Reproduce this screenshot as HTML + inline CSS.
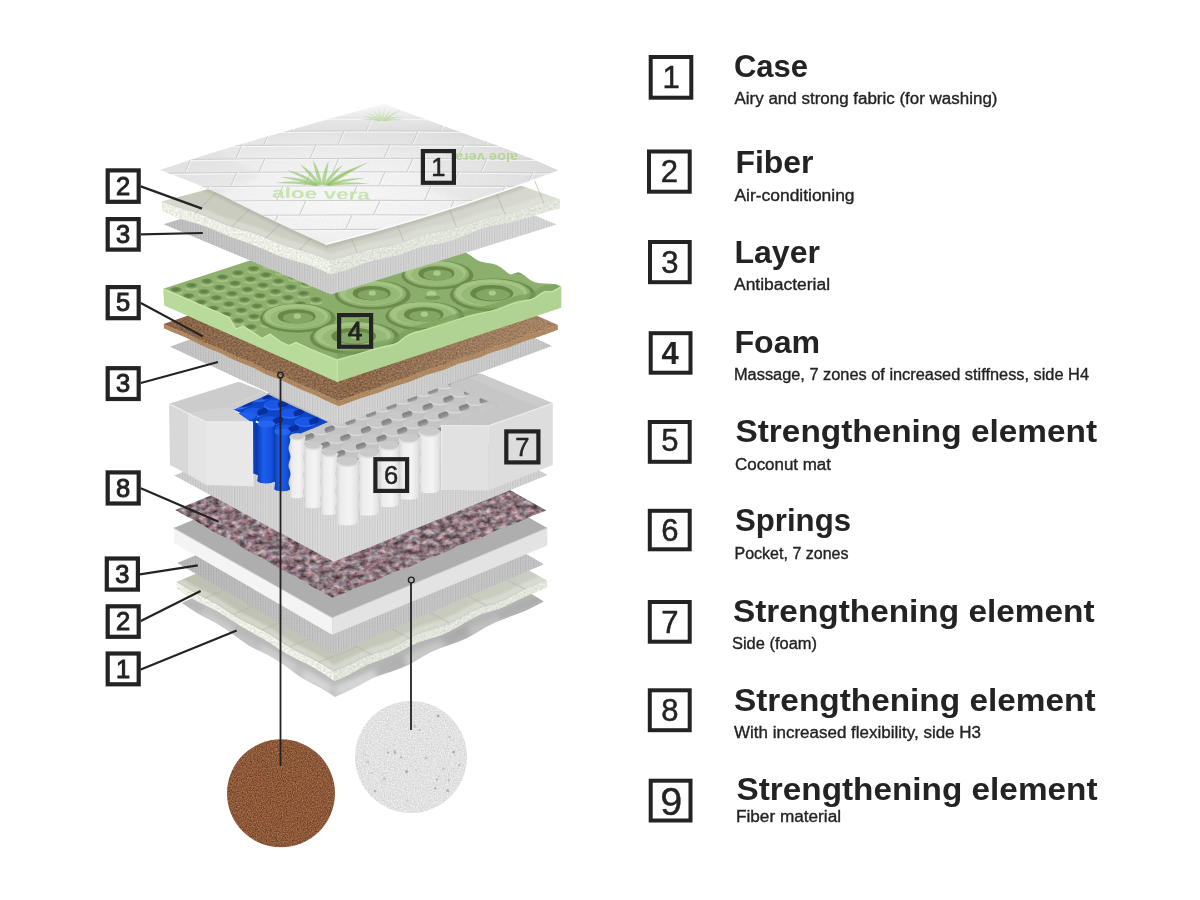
<!DOCTYPE html>
<html><head><meta charset="utf-8"><title>Mattress layers</title>
<style>html,body{margin:0;padding:0;background:#fff}svg{display:block;font-family:"Liberation Sans",sans-serif}</style>
</head><body>
<svg width="1200" height="900" viewBox="0 0 1200 900">
<defs>

<pattern id="mesh" width="2.6" height="2.6" patternUnits="userSpaceOnUse">
  <rect width="2.6" height="2.6" fill="#000" fill-opacity="0"/>
  <rect x="0" y="0" width="1.1" height="2.6" fill="#000" fill-opacity="0.075"/>
  <rect x="1.1" y="0" width="1.5" height="0.9" fill="#fff" fill-opacity="0.10"/>
</pattern>
<filter color-interpolation-filters="sRGB" id="nFelt" filterUnits="userSpaceOnUse" x="150" y="480" width="420" height="140">
  <feTurbulence type="fractalNoise" baseFrequency="0.15 0.2" numOctaves="3" seed="11" result="n"/>
  <feColorMatrix in="n" type="matrix" values="0.8 0.27 0 0 0.02  0.8 0 0 0 0.07  0.8 0 0.06 0 0.07  0 0 0 0 1"/>
  <feComposite operator="in" in2="SourceGraphic"/>
</filter>
<filter color-interpolation-filters="sRGB" id="nCoco" filterUnits="userSpaceOnUse" x="150" y="300" width="420" height="120">
  <feTurbulence type="fractalNoise" baseFrequency="0.55" numOctaves="2" seed="5" result="n"/>
  <feColorMatrix in="n" type="matrix" values="0.4 0 0 0 0.345  0.31 0 0 0 0.25  0.23 0 0 0 0.17  0 0 0 0 1"/>
  <feComposite operator="in" in2="SourceGraphic"/>
</filter>
<filter color-interpolation-filters="sRGB" id="nCocoC" filterUnits="userSpaceOnUse" x="220" y="730" width="125" height="125">
  <feTurbulence type="fractalNoise" baseFrequency="0.8" numOctaves="2" seed="9" result="n"/>
  <feColorMatrix in="n" type="matrix" values="0.5 0 0 0 0.30  0.38 0 0 0 0.155  0.28 0 0 0 0.085  0 0 0 0 1"/>
  <feComposite operator="in" in2="SourceGraphic"/>
</filter>
<filter color-interpolation-filters="sRGB" id="nFoamC" filterUnits="userSpaceOnUse" x="350" y="695" width="125" height="125">
  <feTurbulence type="fractalNoise" baseFrequency="0.7" numOctaves="2" seed="4" result="n"/>
  <feColorMatrix in="n" type="matrix" values="0.22 0 0 0 0.775  0.22 0 0 0 0.775  0.22 0 0 0 0.78  0 0 0 0 1"/>
  <feComposite operator="in" in2="SourceGraphic"/>
</filter>
<filter color-interpolation-filters="sRGB" id="nCream" filterUnits="userSpaceOnUse" x="150" y="180" width="430" height="520">
  <feTurbulence type="fractalNoise" baseFrequency="0.5" numOctaves="2" seed="2" result="n"/>
  <feColorMatrix in="n" type="matrix" values="0.22 0 0 0 0.815  0.22 0 0 0 0.825  0.22 0 0 0 0.785  0 0 0 0 1"/>
  <feComposite operator="in" in2="SourceGraphic"/>
</filter>
<filter id="soft" x="-5%" y="-5%" width="110%" height="110%"><feGaussianBlur stdDeviation="1.2"/></filter>
<filter id="soft2" x="-10%" y="-10%" width="120%" height="120%"><feGaussianBlur stdDeviation="2.5"/></filter>
<filter id="soft05" x="-5%" y="-5%" width="110%" height="110%"><feGaussianBlur stdDeviation="0.6"/></filter>
<linearGradient id="gMeshL" x1="0" y1="0" x2="1" y2="0"><stop offset="0" stop-color="#c3c3c3"/><stop offset="0.45" stop-color="#dadada"/><stop offset="1" stop-color="#d0d0d0"/></linearGradient>
<linearGradient id="gCyl" x1="0" y1="0" x2="1" y2="0"><stop offset="0" stop-color="#cfcfcf"/><stop offset="0.22" stop-color="#ececec"/><stop offset="0.6" stop-color="#f4f4f4"/><stop offset="0.88" stop-color="#e2e2e2"/><stop offset="1" stop-color="#c4c4c4"/></linearGradient>
<linearGradient id="gBlue" x1="0" y1="0" x2="1" y2="0"><stop offset="0" stop-color="#0b3cb4"/><stop offset="0.35" stop-color="#1d5ef0"/><stop offset="0.75" stop-color="#1450dc"/><stop offset="1" stop-color="#0a36a6"/></linearGradient>
<linearGradient id="gCoverLow" x1="0" y1="0" x2="1" y2="0"><stop offset="0" stop-color="#c0c0c0"/><stop offset="0.4" stop-color="#c6c6c6"/><stop offset="1" stop-color="#b4b4b4"/></linearGradient>
<linearGradient id="gTopFade" x1="0" y1="0" x2="0" y2="1"><stop offset="0" stop-color="#fff" stop-opacity="1"/><stop offset="1" stop-color="#fff" stop-opacity="0"/></linearGradient>

<clipPath id="cpCovLow"><path d="M181.7,603.0 Q198.7,614.6 207.2,618.6 Q215.8,622.6 224.3,628.2 Q232.8,633.9 241.3,640.4 Q249.8,646.9 258.4,650.4 Q266.9,654.0 275.4,659.3 Q283.9,664.6 292.4,671.3 Q300.9,678.1 309.5,682.2 Q318.0,686.3 326.5,691.6 L335.0,697.0 L335.0,697.0 Q354.0,688.7 363.5,683.0 Q373.0,677.3 382.5,674.5 Q391.9,671.7 401.4,668.0 Q410.9,664.2 420.4,657.9 Q429.9,651.5 439.4,648.4 Q448.9,645.3 458.4,641.8 Q467.9,638.3 477.4,632.3 Q486.9,626.2 496.3,622.1 Q505.8,618.0 515.3,614.8 Q524.8,611.6 534.3,606.5 L543.8,601.5 L390.5,507.5 Z"/></clipPath>
<linearGradient id="gFib21" gradientUnits="userSpaceOnUse" x1="176.4" y1="0" x2="546.9" y2="0"><stop offset="0" stop-color="#bcbfb1"/><stop offset="0.45" stop-color="#c3c6b9"/><stop offset="1" stop-color="#cbcec2"/></linearGradient>
<clipPath id="cpFib21"><path d="M176.4,582.0 Q192.1,591.8 200.0,595.4 Q207.9,599.0 215.8,603.7 Q223.6,608.4 231.5,613.8 Q239.4,619.1 247.2,622.8 Q255.1,626.4 263.0,630.6 Q270.8,634.8 278.7,640.3 Q286.6,645.9 294.5,649.9 Q302.3,653.9 310.2,657.7 Q318.1,661.5 325.9,666.5 L333.8,671.5 L333.8,671.5 Q350.2,664.6 358.4,660.2 Q366.6,655.7 374.8,653.6 Q383.0,651.5 391.2,648.0 Q399.4,644.6 407.6,639.5 Q415.8,634.5 424.0,631.8 Q432.2,629.2 440.4,626.7 Q448.5,624.3 456.7,619.8 Q464.9,615.2 473.1,611.0 Q481.3,606.8 489.5,605.1 Q497.7,603.4 505.9,599.0 Q514.1,594.6 522.3,590.6 Q530.5,586.6 538.7,583.5 L546.9,580.5 L389.5,491.0 Z"/></clipPath>
<linearGradient id="gcpMesh4" gradientUnits="userSpaceOnUse" x1="177.4" y1="0" x2="543.8" y2="0"><stop offset="0" stop-color="#b8b8b8"/><stop offset="0.45" stop-color="#c8c8c8"/><stop offset="1" stop-color="#c5c5c5"/></linearGradient>
<linearGradient id="gcpMesh3" gradientUnits="userSpaceOnUse" x1="174.3" y1="0" x2="547.5" y2="0"><stop offset="0" stop-color="#cfcfcf"/><stop offset="0.45" stop-color="#dcdcdc"/><stop offset="1" stop-color="#d3d3d3"/></linearGradient>
<clipPath id="cpTops"><polygon points="291.0,436.0 326.0,421.0 300.0,405.0 420.0,365.0 455.0,386.0 500.0,406.0 441.0,431.0 347.0,470.0"/></clipPath>
<linearGradient id="gGap" x1="0" y1="0" x2="0" y2="1"><stop offset="0" stop-color="#7f7f7f"/><stop offset="0.6" stop-color="#8e8e8e"/><stop offset="1" stop-color="#a8a8a8"/></linearGradient>
<clipPath id="cpBlue"><polygon points="229.5,407.5 268.0,394.5 328.0,422.0 291.0,437.5"/></clipPath>
<linearGradient id="gcpMesh2" gradientUnits="userSpaceOnUse" x1="170.0" y1="0" x2="552.0" y2="0"><stop offset="0" stop-color="#c4c4c4"/><stop offset="0.45" stop-color="#d6d6d6"/><stop offset="1" stop-color="#c9c9c9"/></linearGradient>
<linearGradient id="gCocoLt" gradientUnits="userSpaceOnUse" x1="160" y1="0" x2="560" y2="0"><stop offset="0" stop-color="#5a3a22" stop-opacity="0.12"/><stop offset="0.5" stop-color="#fff" stop-opacity="0"/><stop offset="1" stop-color="#e8c9a0" stop-opacity="0.28"/></linearGradient>

<radialGradient id="gRing">
  <stop offset="0" stop-color="#b2d590"/><stop offset="0.08" stop-color="#9cc27a"/>
  <stop offset="0.20" stop-color="#6b9250"/><stop offset="0.34" stop-color="#759c58"/>
  <stop offset="0.50" stop-color="#94bb72"/><stop offset="0.72" stop-color="#a0c67e"/>
  <stop offset="0.86" stop-color="#7ea562"/><stop offset="0.94" stop-color="#6f9654"/><stop offset="1" stop-color="#6f9654" stop-opacity="0"/>
</radialGradient>
<radialGradient id="gDimple">
  <stop offset="0" stop-color="#5d7c42"/><stop offset="0.6" stop-color="#6b8b4e"/><stop offset="1" stop-color="#6b8b4e" stop-opacity="0"/>
</radialGradient>
<linearGradient id="gGreenTop" gradientUnits="userSpaceOnUse" x1="160" y1="0" x2="565" y2="0">
  <stop offset="0" stop-color="#92b473"/><stop offset="0.5" stop-color="#8aac6b"/><stop offset="1" stop-color="#8fb170"/>
</linearGradient>

<clipPath id="cpGreen"><path d="M163.2,288.8 L195.0,302.5 L228.5,317.0 L236.0,329.0 L243.0,326.0 L254.0,333.0 L262.0,338.5 L270.0,334.0 L281.0,342.0 L289.0,345.5 L296.0,342.5 L309.0,348.5 L337.3,360.0 L337.3,360.0 Q351.0,356.5 358.0,354.2 Q365.0,352.0 371.0,350.2 Q377.0,348.5 383.5,347.0 Q390.0,345.5 394.0,344.5 Q398.0,343.5 401.5,340.0 Q405.0,336.5 409.0,334.8 Q413.0,333.0 417.1,332.0 Q421.3,331.0 430.6,328.2 Q440.0,325.5 450.5,322.0 Q461.0,318.5 469.0,316.2 Q477.0,314.0 483.5,312.8 Q490.0,311.5 496.5,309.5 Q503.0,307.5 508.9,305.0 Q514.7,302.5 519.4,301.8 Q524.0,301.0 528.6,300.1 Q533.3,299.3 536.6,296.9 Q540.0,294.5 542.5,292.9 Q545.0,291.3 548.5,291.8 Q552.0,292.3 554.5,290.6 Q557.0,289.0 559.1,287.9 L561.3,286.7 L561.3,286.7 Q556.7,284.0 550.9,283.8 Q545.0,283.6 539.8,283.2 Q534.5,282.8 531.0,280.5 Q527.5,278.2 524.0,275.1 Q520.5,272.0 517.8,272.5 Q515.0,273.0 512.5,274.1 Q510.0,275.3 505.4,271.1 Q500.7,267.0 497.2,265.3 Q493.7,263.6 486.1,262.7 Q478.5,261.8 472.6,256.9 Q466.8,252.0 427.0,233.8 L387.2,215.5 Z"/></clipPath>
<linearGradient id="gcpMesh1" gradientUnits="userSpaceOnUse" x1="163.7" y1="0" x2="556.5" y2="0"><stop offset="0" stop-color="#c0c0c0"/><stop offset="0.45" stop-color="#d2d2d2"/><stop offset="1" stop-color="#d8d8d8"/></linearGradient>
<linearGradient id="gFib51" gradientUnits="userSpaceOnUse" x1="161.6" y1="0" x2="560.0" y2="0"><stop offset="0" stop-color="#c7cabd"/><stop offset="0.45" stop-color="#ced0c5"/><stop offset="1" stop-color="#d8dad0"/></linearGradient>
<clipPath id="cpFib51"><path d="M161.6,201.6 Q178.4,208.2 186.8,210.2 Q195.2,212.1 203.7,215.6 Q212.1,219.1 220.5,222.8 Q228.9,226.5 237.3,228.5 Q245.7,230.5 254.1,233.3 Q262.5,236.2 270.9,240.1 Q279.3,244.0 287.8,246.6 Q296.2,249.3 304.6,251.6 Q313.0,253.9 321.4,257.2 L329.8,260.5 L329.8,260.5 Q347.5,255.9 356.4,252.9 Q365.2,249.9 374.1,248.4 Q382.9,246.9 391.8,245.2 Q400.6,243.6 409.5,239.4 Q418.3,235.3 427.2,233.7 Q436.0,232.2 444.9,230.7 Q453.8,229.1 462.6,225.9 Q471.5,222.7 480.3,219.7 Q489.2,216.7 498.0,215.6 Q506.9,214.5 515.7,211.7 Q524.6,208.8 533.4,206.0 Q542.3,203.1 551.1,201.2 L560.0,199.3 L391.8,140.4 Z"/></clipPath>

<radialGradient id="gCover" gradientUnits="userSpaceOnUse" cx="0" cy="0" r="1" gradientTransform="translate(335,200) scale(235,80)">
  <stop offset="0" stop-color="#fafafa"/><stop offset="0.45" stop-color="#f4f4f4"/><stop offset="0.8" stop-color="#e9e9e9"/><stop offset="1" stop-color="#dfdfdf"/>
</radialGradient>
<filter color-interpolation-filters="sRGB" id="nCover" filterUnits="userSpaceOnUse" x="150" y="95" width="420" height="160">
  <feTurbulence type="fractalNoise" baseFrequency="0.9" numOctaves="1" seed="8" result="n"/>
  <feColorMatrix in="n" type="matrix" values="0 0 0 0 0.55  0 0 0 0 0.55  0 0 0 0 0.55  0.5 0 0 0 -0.14"/>
  <feComposite operator="in" in2="SourceGraphic"/>
</filter>

<clipPath id="cpCover"><path d="M160,170 Q215,150.5 280,133 Q335,117 384.5,104 Q440,125 500,146.5 Q535,159.5 559,170.7 Q446,213.5 325.3,244.5 Q275,222.5 219.7,194 Q185,179 160,170 Z"/></clipPath>
</defs>
<rect width="1200" height="900" fill="#fff"/>
<g id="mattress">
<path d="M181.7,603.0 Q198.7,614.6 207.2,618.6 Q215.8,622.6 224.3,628.2 Q232.8,633.9 241.3,640.4 Q249.8,646.9 258.4,650.4 Q266.9,654.0 275.4,659.3 Q283.9,664.6 292.4,671.3 Q300.9,678.1 309.5,682.2 Q318.0,686.3 326.5,691.6 L335.0,697.0 L335.0,697.0 Q354.0,688.7 363.5,683.0 Q373.0,677.3 382.5,674.5 Q391.9,671.7 401.4,668.0 Q410.9,664.2 420.4,657.9 Q429.9,651.5 439.4,648.4 Q448.9,645.3 458.4,641.8 Q467.9,638.3 477.4,632.3 Q486.9,626.2 496.3,622.1 Q505.8,618.0 515.3,614.8 Q524.8,611.6 534.3,606.5 L543.8,601.5 L390.5,507.5 Z" fill="url(#gCoverLow)" />
<g clip-path="url(#cpCovLow)">
<polygon points="181.7,595.0 335.0,673.0 543.8,593.5 543.8,600.5 335.0,685.0 181.7,602.0" fill="#8f8f8f" opacity="0.22" filter="url(#soft2)"/>
<polygon points="204.1,607.3 234.8,626.1 230.8,635.1 200.1,616.3" fill="#fff" opacity="0.22" filter="url(#soft2)"/>
<polygon points="262.4,643.0 296.1,663.7 292.1,672.7 258.4,652.0" fill="#fff" opacity="0.20" filter="url(#soft2)"/>
<polygon points="305.3,669.3 331.3,685.3 327.3,694.3 301.3,678.3" fill="#fff" opacity="0.28" filter="url(#soft2)"/>
<polygon points="335.2,687.1 372.8,669.9 376.8,679.9 339.2,697.1" fill="#fff" opacity="0.30" filter="url(#soft2)"/>
<polygon points="404.1,655.6 439.6,639.3 443.6,649.3 408.1,665.6" fill="#fff" opacity="0.18" filter="url(#soft2)"/>
<polygon points="468.8,626.0 498.0,612.6 502.0,622.6 472.8,636.0" fill="#fff" opacity="0.15" filter="url(#soft2)"/>
<polygon points="376.9,668.0 402.0,656.5 406.0,666.5 380.9,678.0" fill="#666" opacity="0.16" filter="url(#soft2)"/>
<polygon points="443.8,637.4 464.6,627.9 468.6,637.9 447.8,647.4" fill="#666" opacity="0.14" filter="url(#soft2)"/>
</g>
<path d="M176.4,582.0 Q192.1,591.8 200.0,595.4 Q207.9,599.0 215.8,603.7 Q223.6,608.4 231.5,613.8 Q239.4,619.1 247.2,622.8 Q255.1,626.4 263.0,630.6 Q270.8,634.8 278.7,640.3 Q286.6,645.9 294.5,649.9 Q302.3,653.9 310.2,657.7 Q318.1,661.5 325.9,666.5 L333.8,671.5 L333.8,671.5 Q350.2,664.6 358.4,660.2 Q366.6,655.7 374.8,653.6 Q383.0,651.5 391.2,648.0 Q399.4,644.6 407.6,639.5 Q415.8,634.5 424.0,631.8 Q432.2,629.2 440.4,626.7 Q448.5,624.3 456.7,619.8 Q464.9,615.2 473.1,611.0 Q481.3,606.8 489.5,605.1 Q497.7,603.4 505.9,599.0 Q514.1,594.6 522.3,590.6 Q530.5,586.6 538.7,583.5 L546.9,580.5 L546.9,587.4 Q530.5,594.2 522.3,598.1 Q514.1,602.0 505.9,606.0 Q497.7,610.0 489.5,611.7 Q481.3,613.3 473.1,617.9 Q464.9,622.5 456.7,627.6 Q448.5,632.7 440.4,635.4 Q432.2,638.0 424.0,640.5 Q415.8,642.9 407.6,647.6 Q399.4,652.3 391.2,655.8 Q383.0,659.3 374.8,661.9 Q366.6,664.6 358.4,669.5 Q350.2,674.5 342.0,678.0 L333.8,681.6 L334.3,681.1 Q318.6,669.9 310.7,665.9 Q302.8,661.9 295.0,658.3 Q287.1,654.6 279.2,649.2 Q271.3,643.8 263.5,639.1 Q255.6,634.5 247.7,630.3 Q239.9,626.0 232.0,620.6 Q224.1,615.2 216.2,610.8 Q208.4,606.5 200.5,602.9 Q192.6,599.3 184.8,593.9 L176.9,588.5 Z" fill="#e9ebe1" filter="url(#nCream)"/>
<path d="M333.8,671.5 Q350.2,664.6 358.4,660.2 Q366.6,655.7 374.8,653.6 Q383.0,651.5 391.2,648.0 Q399.4,644.6 407.6,639.5 Q415.8,634.5 424.0,631.8 Q432.2,629.2 440.4,626.7 Q448.5,624.3 456.7,619.8 Q464.9,615.2 473.1,611.0 Q481.3,606.8 489.5,605.1 Q497.7,603.4 505.9,599.0 Q514.1,594.6 522.3,590.6 Q530.5,586.6 538.7,583.5 L546.9,580.5 L546.9,587.4 Q530.5,594.2 522.3,598.1 Q514.1,602.0 505.9,606.0 Q497.7,610.0 489.5,611.7 Q481.3,613.3 473.1,617.9 Q464.9,622.5 456.7,627.6 Q448.5,632.7 440.4,635.4 Q432.2,638.0 424.0,640.5 Q415.8,642.9 407.6,647.6 Q399.4,652.3 391.2,655.8 Q383.0,659.3 374.8,661.9 Q366.6,664.6 358.4,669.5 Q350.2,674.5 342.0,678.0 L333.8,681.6 Z" fill="#8b8f7c" opacity="0.10"/>
<path d="M176.4,582.0 Q192.1,591.8 200.0,595.4 Q207.9,599.0 215.8,603.7 Q223.6,608.4 231.5,613.8 Q239.4,619.1 247.2,622.8 Q255.1,626.4 263.0,630.6 Q270.8,634.8 278.7,640.3 Q286.6,645.9 294.5,649.9 Q302.3,653.9 310.2,657.7 Q318.1,661.5 325.9,666.5 L333.8,671.5 L333.8,671.5 Q350.2,664.6 358.4,660.2 Q366.6,655.7 374.8,653.6 Q383.0,651.5 391.2,648.0 Q399.4,644.6 407.6,639.5 Q415.8,634.5 424.0,631.8 Q432.2,629.2 440.4,626.7 Q448.5,624.3 456.7,619.8 Q464.9,615.2 473.1,611.0 Q481.3,606.8 489.5,605.1 Q497.7,603.4 505.9,599.0 Q514.1,594.6 522.3,590.6 Q530.5,586.6 538.7,583.5 L546.9,580.5 L389.5,491.0 Z" fill="url(#gFib21)" />
<g clip-path="url(#cpFib21)">
<path d="M176.4,582.0 Q192.1,591.8 200.0,595.4 Q207.9,599.0 215.8,603.7 Q223.6,608.4 231.5,613.8 Q239.4,619.1 247.2,622.8 Q255.1,626.4 263.0,630.6 Q270.8,634.8 278.7,640.3 Q286.6,645.9 294.5,649.9 Q302.3,653.9 310.2,657.7 Q318.1,661.5 325.9,666.5 L333.8,671.5 L333.8,671.5 Q350.2,664.6 358.4,660.2 Q366.6,655.7 374.8,653.6 Q383.0,651.5 391.2,648.0 Q399.4,644.6 407.6,639.5 Q415.8,634.5 424.0,631.8 Q432.2,629.2 440.4,626.7 Q448.5,624.3 456.7,619.8 Q464.9,615.2 473.1,611.0 Q481.3,606.8 489.5,605.1 Q497.7,603.4 505.9,599.0 Q514.1,594.6 522.3,590.6 Q530.5,586.6 538.7,583.5 L546.9,580.5 L546.9,573.5 Q530.5,579.6 522.3,583.6 Q514.1,587.6 505.9,592.0 Q497.7,596.4 489.5,598.1 Q481.3,599.8 473.1,604.0 Q464.9,608.2 456.7,612.8 Q448.5,617.3 440.4,619.7 Q432.2,622.2 424.0,624.8 Q415.8,627.5 407.6,632.5 Q399.4,637.6 391.2,641.0 Q383.0,644.5 374.8,646.6 Q366.6,648.7 358.4,653.2 Q350.2,657.6 342.0,661.1 Q333.8,664.5 333.8,664.5 Q333.8,664.5 325.9,659.5 Q318.1,654.5 310.2,650.7 Q302.3,646.9 294.5,642.9 Q286.6,638.9 278.7,633.3 Q270.8,627.8 263.0,623.6 Q255.1,619.4 247.2,615.8 Q239.4,612.1 231.5,606.8 Q223.6,601.4 215.8,596.7 Q207.9,592.0 200.0,588.4 Q192.1,584.8 184.3,579.9 L176.4,575.0 Z" fill="#e4e6dd" opacity="0.55" filter="url(#soft)"/>
</g>
<line x1="204.7" y1="598.1" x2="244.7" y2="582.1" stroke="#b2b5a8" stroke-width="1.1" opacity="0.6"/>
<line x1="372.2" y1="655.1" x2="338.2" y2="637.1" stroke="#b2b5a8" stroke-width="1.1" opacity="0.6"/>
<line x1="233.1" y1="614.2" x2="273.1" y2="598.2" stroke="#b2b5a8" stroke-width="1.1" opacity="0.6"/>
<line x1="410.5" y1="638.7" x2="376.5" y2="620.7" stroke="#b2b5a8" stroke-width="1.1" opacity="0.6"/>
<line x1="261.4" y1="630.3" x2="301.4" y2="614.3" stroke="#b2b5a8" stroke-width="1.1" opacity="0.6"/>
<line x1="448.9" y1="622.4" x2="414.9" y2="604.4" stroke="#b2b5a8" stroke-width="1.1" opacity="0.6"/>
<line x1="289.7" y1="646.4" x2="329.7" y2="630.4" stroke="#b2b5a8" stroke-width="1.1" opacity="0.6"/>
<line x1="487.2" y1="606.0" x2="453.2" y2="588.0" stroke="#b2b5a8" stroke-width="1.1" opacity="0.6"/>
<line x1="318.1" y1="662.5" x2="358.1" y2="646.5" stroke="#b2b5a8" stroke-width="1.1" opacity="0.6"/>
<line x1="525.6" y1="589.6" x2="491.6" y2="571.6" stroke="#b2b5a8" stroke-width="1.1" opacity="0.6"/>
<polygon points="177.4,563.0 388.0,473.2 543.8,564.2 333.2,654.0" fill="url(#gcpMesh4)" />
<polygon points="177.4,563.0 388.0,473.2 543.8,564.2 333.2,654.0" fill="url(#mesh)" />
<polygon points="173.6,528.0 173.9,543.0 332.2,634.8 332.2,617.8" fill="#f4f4f4" />
<polygon points="332.2,617.8 332.2,634.8 547.3,545.5 547.3,528.0" fill="#e3e3e3" />
<polygon points="173.6,528.0 388.7,438.2 547.3,528.0 332.2,617.8" fill="#aeaeae" />
<polyline points="173.6,528.0 332.2,617.8 547.3,528.0" fill="none" stroke="#cfcfcf" stroke-width="1"/>
<path d="M175.3,510.0 Q185.1,515.7 190.0,518.1 Q195.0,520.5 199.9,523.4 Q204.8,526.3 209.7,529.4 Q214.6,532.5 219.5,534.8 Q224.5,537.0 229.4,539.5 Q234.3,542.0 239.2,545.6 Q244.1,549.2 249.0,551.6 Q254.0,553.9 258.9,556.3 Q263.8,558.6 268.7,561.9 Q273.6,565.2 278.5,568.0 Q283.4,570.8 288.4,573.0 Q293.3,575.2 298.2,578.1 Q303.1,581.1 308.0,584.2 Q312.9,587.3 317.9,589.7 Q322.8,592.2 327.7,594.9 L332.6,597.7 L332.6,597.7 Q343.3,593.5 348.6,590.9 Q354.0,588.4 359.3,586.6 Q364.7,584.8 370.0,582.8 Q375.3,580.9 380.7,578.2 Q386.0,575.4 391.4,573.2 Q396.7,571.0 402.1,569.5 Q407.4,568.0 412.7,565.4 Q418.1,562.8 423.4,560.2 Q428.8,557.7 434.1,556.3 Q439.4,555.0 444.8,552.6 Q450.1,550.2 455.5,547.3 Q460.8,544.4 466.2,542.7 Q471.5,540.9 476.8,539.2 Q482.2,537.4 487.5,534.4 Q492.9,531.5 498.2,529.4 Q503.6,527.4 508.9,525.8 Q514.2,524.2 519.6,521.6 Q524.9,519.1 530.3,516.8 Q535.6,514.6 541.0,512.5 L546.3,510.4 L389.0,422.7 Z" fill="#8d8088" filter="url(#nFelt)"/>
<polygon points="174.3,475.5 388.1,388.7 547.5,475.0 333.7,561.8" fill="url(#gcpMesh3)" />
<polygon points="174.3,475.5 388.1,388.7 547.5,475.0 333.7,561.8" fill="url(#mesh)" />
<polygon points="229.0,407.0 270.0,392.0 420.0,372.0 481.0,373.7 499.0,405.0 441.0,430.0 336.0,462.0 289.0,437.0" fill="#b9b9b9" />
<polygon points="448.2,385.3 499.0,405.4 499.0,418.0 448.2,398.0" fill="#a9a9a9" />
<polygon points="400.0,371.0 448.2,385.3 448.2,398.0 400.0,384.0" fill="#b4b4b4" />
<g clip-path="url(#cpTops)">
<rect x="280" y="360" width="230" height="120" fill="#c4c4c4"/>
<ellipse cx="350.8" cy="334.2" rx="10.3" ry="4.7" fill="#d9d9d9"/>
<ellipse cx="350.8" cy="333.1" rx="10.0" ry="4.4" fill="#c8c8c8"/>
<ellipse cx="330.2" cy="341.9" rx="10.3" ry="4.7" fill="#d9d9d9"/>
<ellipse cx="330.2" cy="340.8" rx="10.0" ry="4.4" fill="#c8c8c8"/>
<ellipse cx="366.4" cy="342.6" rx="10.3" ry="4.7" fill="#d9d9d9"/>
<ellipse cx="366.4" cy="341.5" rx="10.0" ry="4.4" fill="#c8c8c8"/>
<ellipse cx="309.6" cy="349.6" rx="10.3" ry="4.7" fill="#d9d9d9"/>
<ellipse cx="309.6" cy="348.5" rx="10.0" ry="4.4" fill="#c8c8c8"/>
<ellipse cx="345.8" cy="350.3" rx="10.3" ry="4.7" fill="#d9d9d9"/>
<ellipse cx="345.8" cy="349.2" rx="10.0" ry="4.4" fill="#c8c8c8"/>
<ellipse cx="382.0" cy="351.0" rx="10.3" ry="4.7" fill="#d9d9d9"/>
<ellipse cx="382.0" cy="349.9" rx="10.0" ry="4.4" fill="#c8c8c8"/>
<ellipse cx="289.0" cy="357.3" rx="10.3" ry="4.7" fill="#d9d9d9"/>
<ellipse cx="289.0" cy="356.2" rx="10.0" ry="4.4" fill="#c8c8c8"/>
<ellipse cx="325.2" cy="358.0" rx="10.3" ry="4.7" fill="#d9d9d9"/>
<ellipse cx="325.2" cy="356.9" rx="10.0" ry="4.4" fill="#c8c8c8"/>
<ellipse cx="361.4" cy="358.7" rx="10.3" ry="4.7" fill="#d9d9d9"/>
<ellipse cx="361.4" cy="357.6" rx="10.0" ry="4.4" fill="#c8c8c8"/>
<ellipse cx="397.6" cy="359.4" rx="10.3" ry="4.7" fill="#d9d9d9"/>
<ellipse cx="397.6" cy="358.3" rx="10.0" ry="4.4" fill="#c8c8c8"/>
<ellipse cx="268.4" cy="365.0" rx="10.3" ry="4.7" fill="#d9d9d9"/>
<ellipse cx="268.4" cy="363.9" rx="10.0" ry="4.4" fill="#c8c8c8"/>
<ellipse cx="304.6" cy="365.7" rx="10.3" ry="4.7" fill="#d9d9d9"/>
<ellipse cx="304.6" cy="364.6" rx="10.0" ry="4.4" fill="#c8c8c8"/>
<ellipse cx="340.8" cy="366.4" rx="10.3" ry="4.7" fill="#d9d9d9"/>
<ellipse cx="340.8" cy="365.3" rx="10.0" ry="4.4" fill="#c8c8c8"/>
<ellipse cx="377.0" cy="367.1" rx="10.3" ry="4.7" fill="#d9d9d9"/>
<ellipse cx="377.0" cy="366.0" rx="10.0" ry="4.4" fill="#c8c8c8"/>
<ellipse cx="413.2" cy="367.8" rx="10.3" ry="4.7" fill="#d9d9d9"/>
<ellipse cx="413.2" cy="366.7" rx="10.0" ry="4.4" fill="#c8c8c8"/>
<ellipse cx="247.8" cy="372.7" rx="10.3" ry="4.7" fill="#d9d9d9"/>
<ellipse cx="247.8" cy="371.6" rx="10.0" ry="4.4" fill="#c8c8c8"/>
<ellipse cx="284.0" cy="373.4" rx="10.3" ry="4.7" fill="#d9d9d9"/>
<ellipse cx="284.0" cy="372.3" rx="10.0" ry="4.4" fill="#c8c8c8"/>
<ellipse cx="320.2" cy="374.1" rx="10.3" ry="4.7" fill="#d9d9d9"/>
<ellipse cx="320.2" cy="373.0" rx="10.0" ry="4.4" fill="#c8c8c8"/>
<ellipse cx="356.4" cy="374.8" rx="10.3" ry="4.7" fill="#d9d9d9"/>
<ellipse cx="356.4" cy="373.7" rx="10.0" ry="4.4" fill="#c8c8c8"/>
<ellipse cx="392.6" cy="375.5" rx="10.3" ry="4.7" fill="#d9d9d9"/>
<ellipse cx="392.6" cy="374.4" rx="10.0" ry="4.4" fill="#c8c8c8"/>
<ellipse cx="428.8" cy="376.2" rx="10.3" ry="4.7" fill="#d9d9d9"/>
<ellipse cx="428.8" cy="375.1" rx="10.0" ry="4.4" fill="#c8c8c8"/>
<ellipse cx="227.2" cy="380.4" rx="10.3" ry="4.7" fill="#d9d9d9"/>
<ellipse cx="227.2" cy="379.3" rx="10.0" ry="4.4" fill="#c8c8c8"/>
<ellipse cx="263.4" cy="381.1" rx="10.3" ry="4.7" fill="#d9d9d9"/>
<ellipse cx="263.4" cy="380.0" rx="10.0" ry="4.4" fill="#c8c8c8"/>
<ellipse cx="299.6" cy="381.8" rx="10.3" ry="4.7" fill="#d9d9d9"/>
<ellipse cx="299.6" cy="380.7" rx="10.0" ry="4.4" fill="#c8c8c8"/>
<ellipse cx="335.8" cy="382.5" rx="10.3" ry="4.7" fill="#d9d9d9"/>
<ellipse cx="335.8" cy="381.4" rx="10.0" ry="4.4" fill="#c8c8c8"/>
<ellipse cx="372.0" cy="383.2" rx="10.3" ry="4.7" fill="#d9d9d9"/>
<ellipse cx="372.0" cy="382.1" rx="10.0" ry="4.4" fill="#c8c8c8"/>
<ellipse cx="408.2" cy="383.9" rx="10.3" ry="4.7" fill="#d9d9d9"/>
<ellipse cx="408.2" cy="382.8" rx="10.0" ry="4.4" fill="#c8c8c8"/>
<ellipse cx="444.4" cy="384.6" rx="10.3" ry="4.7" fill="#d9d9d9"/>
<ellipse cx="444.4" cy="383.5" rx="10.0" ry="4.4" fill="#c8c8c8"/>
<ellipse cx="206.6" cy="388.1" rx="10.3" ry="4.7" fill="#d9d9d9"/>
<ellipse cx="206.6" cy="387.0" rx="10.0" ry="4.4" fill="#c8c8c8"/>
<ellipse cx="242.8" cy="388.8" rx="10.3" ry="4.7" fill="#d9d9d9"/>
<ellipse cx="242.8" cy="387.7" rx="10.0" ry="4.4" fill="#c8c8c8"/>
<ellipse cx="279.0" cy="389.5" rx="10.3" ry="4.7" fill="#d9d9d9"/>
<ellipse cx="279.0" cy="388.4" rx="10.0" ry="4.4" fill="#c8c8c8"/>
<ellipse cx="315.2" cy="390.2" rx="10.3" ry="4.7" fill="#d9d9d9"/>
<ellipse cx="315.2" cy="389.1" rx="10.0" ry="4.4" fill="#c8c8c8"/>
<ellipse cx="351.4" cy="390.9" rx="10.3" ry="4.7" fill="#d9d9d9"/>
<ellipse cx="351.4" cy="389.8" rx="10.0" ry="4.4" fill="#c8c8c8"/>
<ellipse cx="387.6" cy="391.6" rx="10.3" ry="4.7" fill="#d9d9d9"/>
<ellipse cx="387.6" cy="390.5" rx="10.0" ry="4.4" fill="#c8c8c8"/>
<ellipse cx="423.8" cy="392.3" rx="10.3" ry="4.7" fill="#d9d9d9"/>
<ellipse cx="423.8" cy="391.2" rx="10.0" ry="4.4" fill="#c8c8c8"/>
<ellipse cx="460.0" cy="393.0" rx="10.3" ry="4.7" fill="#d9d9d9"/>
<ellipse cx="460.0" cy="391.9" rx="10.0" ry="4.4" fill="#c8c8c8"/>
<ellipse cx="222.2" cy="396.5" rx="10.3" ry="4.7" fill="#d9d9d9"/>
<ellipse cx="222.2" cy="395.4" rx="10.0" ry="4.4" fill="#c8c8c8"/>
<ellipse cx="258.4" cy="397.2" rx="10.3" ry="4.7" fill="#d9d9d9"/>
<ellipse cx="258.4" cy="396.1" rx="10.0" ry="4.4" fill="#c8c8c8"/>
<ellipse cx="294.6" cy="397.9" rx="10.3" ry="4.7" fill="#d9d9d9"/>
<ellipse cx="294.6" cy="396.8" rx="10.0" ry="4.4" fill="#c8c8c8"/>
<ellipse cx="330.8" cy="398.6" rx="10.3" ry="4.7" fill="#d9d9d9"/>
<ellipse cx="330.8" cy="397.5" rx="10.0" ry="4.4" fill="#c8c8c8"/>
<ellipse cx="367.0" cy="399.3" rx="10.3" ry="4.7" fill="#d9d9d9"/>
<ellipse cx="367.0" cy="398.2" rx="10.0" ry="4.4" fill="#c8c8c8"/>
<ellipse cx="403.2" cy="400.0" rx="10.3" ry="4.7" fill="#d9d9d9"/>
<ellipse cx="403.2" cy="398.9" rx="10.0" ry="4.4" fill="#c8c8c8"/>
<ellipse cx="439.4" cy="400.7" rx="10.3" ry="4.7" fill="#d9d9d9"/>
<ellipse cx="439.4" cy="399.6" rx="10.0" ry="4.4" fill="#c8c8c8"/>
<ellipse cx="475.6" cy="401.4" rx="10.3" ry="4.7" fill="#d9d9d9"/>
<ellipse cx="475.6" cy="400.3" rx="10.0" ry="4.4" fill="#c8c8c8"/>
<ellipse cx="237.8" cy="404.9" rx="10.3" ry="4.7" fill="#d9d9d9"/>
<ellipse cx="237.8" cy="403.8" rx="10.0" ry="4.4" fill="#c8c8c8"/>
<ellipse cx="274.0" cy="405.6" rx="10.3" ry="4.7" fill="#d9d9d9"/>
<ellipse cx="274.0" cy="404.5" rx="10.0" ry="4.4" fill="#c8c8c8"/>
<ellipse cx="310.2" cy="406.3" rx="10.3" ry="4.7" fill="#d9d9d9"/>
<ellipse cx="310.2" cy="405.2" rx="10.0" ry="4.4" fill="#c8c8c8"/>
<ellipse cx="346.4" cy="407.0" rx="10.3" ry="4.7" fill="#d9d9d9"/>
<ellipse cx="346.4" cy="405.9" rx="10.0" ry="4.4" fill="#c8c8c8"/>
<ellipse cx="382.6" cy="407.7" rx="10.3" ry="4.7" fill="#d9d9d9"/>
<ellipse cx="382.6" cy="406.6" rx="10.0" ry="4.4" fill="#c8c8c8"/>
<ellipse cx="418.8" cy="408.4" rx="10.3" ry="4.7" fill="#d9d9d9"/>
<ellipse cx="418.8" cy="407.3" rx="10.0" ry="4.4" fill="#c8c8c8"/>
<ellipse cx="455.0" cy="409.1" rx="10.3" ry="4.7" fill="#d9d9d9"/>
<ellipse cx="455.0" cy="408.0" rx="10.0" ry="4.4" fill="#c8c8c8"/>
<ellipse cx="491.2" cy="409.8" rx="10.3" ry="4.7" fill="#d9d9d9"/>
<ellipse cx="491.2" cy="408.7" rx="10.0" ry="4.4" fill="#c8c8c8"/>
<ellipse cx="253.4" cy="413.3" rx="10.3" ry="4.7" fill="#d9d9d9"/>
<ellipse cx="253.4" cy="412.2" rx="10.0" ry="4.4" fill="#c8c8c8"/>
<ellipse cx="289.6" cy="414.0" rx="10.3" ry="4.7" fill="#d9d9d9"/>
<ellipse cx="289.6" cy="412.9" rx="10.0" ry="4.4" fill="#c8c8c8"/>
<ellipse cx="325.8" cy="414.7" rx="10.3" ry="4.7" fill="#d9d9d9"/>
<ellipse cx="325.8" cy="413.6" rx="10.0" ry="4.4" fill="#c8c8c8"/>
<ellipse cx="362.0" cy="415.4" rx="10.3" ry="4.7" fill="#d9d9d9"/>
<ellipse cx="362.0" cy="414.3" rx="10.0" ry="4.4" fill="#c8c8c8"/>
<ellipse cx="398.2" cy="416.1" rx="10.3" ry="4.7" fill="#d9d9d9"/>
<ellipse cx="398.2" cy="415.0" rx="10.0" ry="4.4" fill="#c8c8c8"/>
<ellipse cx="434.4" cy="416.8" rx="10.3" ry="4.7" fill="#d9d9d9"/>
<ellipse cx="434.4" cy="415.7" rx="10.0" ry="4.4" fill="#c8c8c8"/>
<ellipse cx="470.6" cy="417.5" rx="10.3" ry="4.7" fill="#d9d9d9"/>
<ellipse cx="470.6" cy="416.4" rx="10.0" ry="4.4" fill="#c8c8c8"/>
<ellipse cx="269.0" cy="421.7" rx="10.3" ry="4.7" fill="#d9d9d9"/>
<ellipse cx="269.0" cy="420.6" rx="10.0" ry="4.4" fill="#c8c8c8"/>
<ellipse cx="305.2" cy="422.4" rx="10.3" ry="4.7" fill="#d9d9d9"/>
<ellipse cx="305.2" cy="421.3" rx="10.0" ry="4.4" fill="#c8c8c8"/>
<ellipse cx="341.4" cy="423.1" rx="10.3" ry="4.7" fill="#d9d9d9"/>
<ellipse cx="341.4" cy="422.0" rx="10.0" ry="4.4" fill="#c8c8c8"/>
<ellipse cx="377.6" cy="423.8" rx="10.3" ry="4.7" fill="#d9d9d9"/>
<ellipse cx="377.6" cy="422.7" rx="10.0" ry="4.4" fill="#c8c8c8"/>
<ellipse cx="413.8" cy="424.5" rx="10.3" ry="4.7" fill="#d9d9d9"/>
<ellipse cx="413.8" cy="423.4" rx="10.0" ry="4.4" fill="#c8c8c8"/>
<ellipse cx="450.0" cy="425.2" rx="10.3" ry="4.7" fill="#d9d9d9"/>
<ellipse cx="450.0" cy="424.1" rx="10.0" ry="4.4" fill="#c8c8c8"/>
<ellipse cx="284.6" cy="430.1" rx="10.3" ry="4.7" fill="#d9d9d9"/>
<ellipse cx="284.6" cy="429.0" rx="10.0" ry="4.4" fill="#c8c8c8"/>
<ellipse cx="320.8" cy="430.8" rx="10.3" ry="4.7" fill="#d9d9d9"/>
<ellipse cx="320.8" cy="429.7" rx="10.0" ry="4.4" fill="#c8c8c8"/>
<ellipse cx="357.0" cy="431.5" rx="10.3" ry="4.7" fill="#d9d9d9"/>
<ellipse cx="357.0" cy="430.4" rx="10.0" ry="4.4" fill="#c8c8c8"/>
<ellipse cx="393.2" cy="432.2" rx="10.3" ry="4.7" fill="#d9d9d9"/>
<ellipse cx="393.2" cy="431.1" rx="10.0" ry="4.4" fill="#c8c8c8"/>
<ellipse cx="429.4" cy="432.9" rx="10.3" ry="4.7" fill="#d9d9d9"/>
<ellipse cx="429.4" cy="431.8" rx="10.0" ry="4.4" fill="#c8c8c8"/>
<ellipse cx="300.2" cy="438.5" rx="10.3" ry="4.7" fill="#d9d9d9"/>
<ellipse cx="300.2" cy="437.4" rx="10.0" ry="4.4" fill="#c8c8c8"/>
<ellipse cx="336.4" cy="439.2" rx="10.3" ry="4.7" fill="#d9d9d9"/>
<ellipse cx="336.4" cy="438.1" rx="10.0" ry="4.4" fill="#c8c8c8"/>
<ellipse cx="372.6" cy="439.9" rx="10.3" ry="4.7" fill="#d9d9d9"/>
<ellipse cx="372.6" cy="438.8" rx="10.0" ry="4.4" fill="#c8c8c8"/>
<ellipse cx="408.8" cy="440.6" rx="10.3" ry="4.7" fill="#d9d9d9"/>
<ellipse cx="408.8" cy="439.5" rx="10.0" ry="4.4" fill="#c8c8c8"/>
<ellipse cx="315.8" cy="446.9" rx="10.3" ry="4.7" fill="#d9d9d9"/>
<ellipse cx="315.8" cy="445.8" rx="10.0" ry="4.4" fill="#c8c8c8"/>
<ellipse cx="352.0" cy="447.6" rx="10.3" ry="4.7" fill="#d9d9d9"/>
<ellipse cx="352.0" cy="446.5" rx="10.0" ry="4.4" fill="#c8c8c8"/>
<ellipse cx="388.2" cy="448.3" rx="10.3" ry="4.7" fill="#d9d9d9"/>
<ellipse cx="388.2" cy="447.2" rx="10.0" ry="4.4" fill="#c8c8c8"/>
<ellipse cx="331.4" cy="455.3" rx="10.3" ry="4.7" fill="#d9d9d9"/>
<ellipse cx="331.4" cy="454.2" rx="10.0" ry="4.4" fill="#c8c8c8"/>
<ellipse cx="367.6" cy="456.0" rx="10.3" ry="4.7" fill="#d9d9d9"/>
<ellipse cx="367.6" cy="454.9" rx="10.0" ry="4.4" fill="#c8c8c8"/>
<ellipse cx="347.0" cy="463.7" rx="10.3" ry="4.7" fill="#d9d9d9"/>
<ellipse cx="347.0" cy="462.6" rx="10.0" ry="4.4" fill="#c8c8c8"/>
<rect x="-5.2" y="-2.9" width="10.4" height="5.8" rx="2.3" fill="url(#gGap)" transform="translate(359.8,332.7) rotate(-19)"/>
<rect x="-5.2" y="-2.9" width="10.4" height="5.8" rx="2.3" fill="url(#gGap)" transform="translate(339.2,340.4) rotate(-19)"/>
<rect x="-5.2" y="-2.9" width="10.4" height="5.8" rx="2.3" fill="url(#gGap)" transform="translate(375.4,341.1) rotate(-19)"/>
<rect x="-5.2" y="-2.9" width="10.4" height="5.8" rx="2.3" fill="url(#gGap)" transform="translate(318.6,348.1) rotate(-19)"/>
<rect x="-5.2" y="-2.9" width="10.4" height="5.8" rx="2.3" fill="url(#gGap)" transform="translate(354.8,348.8) rotate(-19)"/>
<rect x="-5.2" y="-2.9" width="10.4" height="5.8" rx="2.3" fill="url(#gGap)" transform="translate(391.0,349.5) rotate(-19)"/>
<rect x="-5.2" y="-2.9" width="10.4" height="5.8" rx="2.3" fill="url(#gGap)" transform="translate(298.0,355.8) rotate(-19)"/>
<rect x="-5.2" y="-2.9" width="10.4" height="5.8" rx="2.3" fill="url(#gGap)" transform="translate(334.2,356.5) rotate(-19)"/>
<rect x="-5.2" y="-2.9" width="10.4" height="5.8" rx="2.3" fill="url(#gGap)" transform="translate(370.4,357.2) rotate(-19)"/>
<rect x="-5.2" y="-2.9" width="10.4" height="5.8" rx="2.3" fill="url(#gGap)" transform="translate(406.6,357.9) rotate(-19)"/>
<rect x="-5.2" y="-2.9" width="10.4" height="5.8" rx="2.3" fill="url(#gGap)" transform="translate(277.4,363.5) rotate(-19)"/>
<rect x="-5.2" y="-2.9" width="10.4" height="5.8" rx="2.3" fill="url(#gGap)" transform="translate(313.6,364.2) rotate(-19)"/>
<rect x="-5.2" y="-2.9" width="10.4" height="5.8" rx="2.3" fill="url(#gGap)" transform="translate(349.8,364.9) rotate(-19)"/>
<rect x="-5.2" y="-2.9" width="10.4" height="5.8" rx="2.3" fill="url(#gGap)" transform="translate(386.0,365.6) rotate(-19)"/>
<rect x="-5.2" y="-2.9" width="10.4" height="5.8" rx="2.3" fill="url(#gGap)" transform="translate(422.2,366.3) rotate(-19)"/>
<rect x="-5.2" y="-2.9" width="10.4" height="5.8" rx="2.3" fill="url(#gGap)" transform="translate(256.8,371.2) rotate(-19)"/>
<rect x="-5.2" y="-2.9" width="10.4" height="5.8" rx="2.3" fill="url(#gGap)" transform="translate(293.0,371.9) rotate(-19)"/>
<rect x="-5.2" y="-2.9" width="10.4" height="5.8" rx="2.3" fill="url(#gGap)" transform="translate(329.2,372.6) rotate(-19)"/>
<rect x="-5.2" y="-2.9" width="10.4" height="5.8" rx="2.3" fill="url(#gGap)" transform="translate(365.4,373.3) rotate(-19)"/>
<rect x="-5.2" y="-2.9" width="10.4" height="5.8" rx="2.3" fill="url(#gGap)" transform="translate(401.6,374.0) rotate(-19)"/>
<rect x="-5.2" y="-2.9" width="10.4" height="5.8" rx="2.3" fill="url(#gGap)" transform="translate(437.8,374.7) rotate(-19)"/>
<rect x="-5.2" y="-2.9" width="10.4" height="5.8" rx="2.3" fill="url(#gGap)" transform="translate(236.2,378.9) rotate(-19)"/>
<rect x="-5.2" y="-2.9" width="10.4" height="5.8" rx="2.3" fill="url(#gGap)" transform="translate(272.4,379.6) rotate(-19)"/>
<rect x="-5.2" y="-2.9" width="10.4" height="5.8" rx="2.3" fill="url(#gGap)" transform="translate(308.6,380.3) rotate(-19)"/>
<rect x="-5.2" y="-2.9" width="10.4" height="5.8" rx="2.3" fill="url(#gGap)" transform="translate(344.8,381.0) rotate(-19)"/>
<rect x="-5.2" y="-2.9" width="10.4" height="5.8" rx="2.3" fill="url(#gGap)" transform="translate(381.0,381.7) rotate(-19)"/>
<rect x="-5.2" y="-2.9" width="10.4" height="5.8" rx="2.3" fill="url(#gGap)" transform="translate(417.2,382.4) rotate(-19)"/>
<rect x="-5.2" y="-2.9" width="10.4" height="5.8" rx="2.3" fill="url(#gGap)" transform="translate(453.4,383.1) rotate(-19)"/>
<rect x="-5.2" y="-2.9" width="10.4" height="5.8" rx="2.3" fill="url(#gGap)" transform="translate(215.6,386.6) rotate(-19)"/>
<rect x="-5.2" y="-2.9" width="10.4" height="5.8" rx="2.3" fill="url(#gGap)" transform="translate(251.8,387.3) rotate(-19)"/>
<rect x="-5.2" y="-2.9" width="10.4" height="5.8" rx="2.3" fill="url(#gGap)" transform="translate(288.0,388.0) rotate(-19)"/>
<rect x="-5.2" y="-2.9" width="10.4" height="5.8" rx="2.3" fill="url(#gGap)" transform="translate(324.2,388.7) rotate(-19)"/>
<rect x="-5.2" y="-2.9" width="10.4" height="5.8" rx="2.3" fill="url(#gGap)" transform="translate(360.4,389.4) rotate(-19)"/>
<rect x="-5.2" y="-2.9" width="10.4" height="5.8" rx="2.3" fill="url(#gGap)" transform="translate(396.6,390.1) rotate(-19)"/>
<rect x="-5.2" y="-2.9" width="10.4" height="5.8" rx="2.3" fill="url(#gGap)" transform="translate(432.8,390.8) rotate(-19)"/>
<rect x="-5.2" y="-2.9" width="10.4" height="5.8" rx="2.3" fill="url(#gGap)" transform="translate(469.0,391.5) rotate(-19)"/>
<rect x="-5.2" y="-2.9" width="10.4" height="5.8" rx="2.3" fill="url(#gGap)" transform="translate(231.2,395.0) rotate(-19)"/>
<rect x="-5.2" y="-2.9" width="10.4" height="5.8" rx="2.3" fill="url(#gGap)" transform="translate(267.4,395.7) rotate(-19)"/>
<rect x="-5.2" y="-2.9" width="10.4" height="5.8" rx="2.3" fill="url(#gGap)" transform="translate(303.6,396.4) rotate(-19)"/>
<rect x="-5.2" y="-2.9" width="10.4" height="5.8" rx="2.3" fill="url(#gGap)" transform="translate(339.8,397.1) rotate(-19)"/>
<rect x="-5.2" y="-2.9" width="10.4" height="5.8" rx="2.3" fill="url(#gGap)" transform="translate(376.0,397.8) rotate(-19)"/>
<rect x="-5.2" y="-2.9" width="10.4" height="5.8" rx="2.3" fill="url(#gGap)" transform="translate(412.2,398.5) rotate(-19)"/>
<rect x="-5.2" y="-2.9" width="10.4" height="5.8" rx="2.3" fill="url(#gGap)" transform="translate(448.4,399.2) rotate(-19)"/>
<rect x="-5.2" y="-2.9" width="10.4" height="5.8" rx="2.3" fill="url(#gGap)" transform="translate(484.6,399.9) rotate(-19)"/>
<rect x="-5.2" y="-2.9" width="10.4" height="5.8" rx="2.3" fill="url(#gGap)" transform="translate(246.8,403.4) rotate(-19)"/>
<rect x="-5.2" y="-2.9" width="10.4" height="5.8" rx="2.3" fill="url(#gGap)" transform="translate(283.0,404.1) rotate(-19)"/>
<rect x="-5.2" y="-2.9" width="10.4" height="5.8" rx="2.3" fill="url(#gGap)" transform="translate(319.2,404.8) rotate(-19)"/>
<rect x="-5.2" y="-2.9" width="10.4" height="5.8" rx="2.3" fill="url(#gGap)" transform="translate(355.4,405.5) rotate(-19)"/>
<rect x="-5.2" y="-2.9" width="10.4" height="5.8" rx="2.3" fill="url(#gGap)" transform="translate(391.6,406.2) rotate(-19)"/>
<rect x="-5.2" y="-2.9" width="10.4" height="5.8" rx="2.3" fill="url(#gGap)" transform="translate(427.8,406.9) rotate(-19)"/>
<rect x="-5.2" y="-2.9" width="10.4" height="5.8" rx="2.3" fill="url(#gGap)" transform="translate(464.0,407.6) rotate(-19)"/>
<rect x="-5.2" y="-2.9" width="10.4" height="5.8" rx="2.3" fill="url(#gGap)" transform="translate(500.2,408.3) rotate(-19)"/>
<rect x="-5.2" y="-2.9" width="10.4" height="5.8" rx="2.3" fill="url(#gGap)" transform="translate(262.4,411.8) rotate(-19)"/>
<rect x="-5.2" y="-2.9" width="10.4" height="5.8" rx="2.3" fill="url(#gGap)" transform="translate(298.6,412.5) rotate(-19)"/>
<rect x="-5.2" y="-2.9" width="10.4" height="5.8" rx="2.3" fill="url(#gGap)" transform="translate(334.8,413.2) rotate(-19)"/>
<rect x="-5.2" y="-2.9" width="10.4" height="5.8" rx="2.3" fill="url(#gGap)" transform="translate(371.0,413.9) rotate(-19)"/>
<rect x="-5.2" y="-2.9" width="10.4" height="5.8" rx="2.3" fill="url(#gGap)" transform="translate(407.2,414.6) rotate(-19)"/>
<rect x="-5.2" y="-2.9" width="10.4" height="5.8" rx="2.3" fill="url(#gGap)" transform="translate(443.4,415.3) rotate(-19)"/>
<rect x="-5.2" y="-2.9" width="10.4" height="5.8" rx="2.3" fill="url(#gGap)" transform="translate(479.6,416.0) rotate(-19)"/>
<rect x="-5.2" y="-2.9" width="10.4" height="5.8" rx="2.3" fill="url(#gGap)" transform="translate(278.0,420.2) rotate(-19)"/>
<rect x="-5.2" y="-2.9" width="10.4" height="5.8" rx="2.3" fill="url(#gGap)" transform="translate(314.2,420.9) rotate(-19)"/>
<rect x="-5.2" y="-2.9" width="10.4" height="5.8" rx="2.3" fill="url(#gGap)" transform="translate(350.4,421.6) rotate(-19)"/>
<rect x="-5.2" y="-2.9" width="10.4" height="5.8" rx="2.3" fill="url(#gGap)" transform="translate(386.6,422.3) rotate(-19)"/>
<rect x="-5.2" y="-2.9" width="10.4" height="5.8" rx="2.3" fill="url(#gGap)" transform="translate(422.8,423.0) rotate(-19)"/>
<rect x="-5.2" y="-2.9" width="10.4" height="5.8" rx="2.3" fill="url(#gGap)" transform="translate(459.0,423.7) rotate(-19)"/>
<rect x="-5.2" y="-2.9" width="10.4" height="5.8" rx="2.3" fill="url(#gGap)" transform="translate(293.6,428.6) rotate(-19)"/>
<rect x="-5.2" y="-2.9" width="10.4" height="5.8" rx="2.3" fill="url(#gGap)" transform="translate(329.8,429.3) rotate(-19)"/>
<rect x="-5.2" y="-2.9" width="10.4" height="5.8" rx="2.3" fill="url(#gGap)" transform="translate(366.0,430.0) rotate(-19)"/>
<rect x="-5.2" y="-2.9" width="10.4" height="5.8" rx="2.3" fill="url(#gGap)" transform="translate(402.2,430.7) rotate(-19)"/>
<rect x="-5.2" y="-2.9" width="10.4" height="5.8" rx="2.3" fill="url(#gGap)" transform="translate(438.4,431.4) rotate(-19)"/>
<rect x="-5.2" y="-2.9" width="10.4" height="5.8" rx="2.3" fill="url(#gGap)" transform="translate(309.2,437.0) rotate(-19)"/>
<rect x="-5.2" y="-2.9" width="10.4" height="5.8" rx="2.3" fill="url(#gGap)" transform="translate(345.4,437.7) rotate(-19)"/>
<rect x="-5.2" y="-2.9" width="10.4" height="5.8" rx="2.3" fill="url(#gGap)" transform="translate(381.6,438.4) rotate(-19)"/>
<rect x="-5.2" y="-2.9" width="10.4" height="5.8" rx="2.3" fill="url(#gGap)" transform="translate(417.8,439.1) rotate(-19)"/>
<rect x="-5.2" y="-2.9" width="10.4" height="5.8" rx="2.3" fill="url(#gGap)" transform="translate(324.8,445.4) rotate(-19)"/>
<rect x="-5.2" y="-2.9" width="10.4" height="5.8" rx="2.3" fill="url(#gGap)" transform="translate(361.0,446.1) rotate(-19)"/>
<rect x="-5.2" y="-2.9" width="10.4" height="5.8" rx="2.3" fill="url(#gGap)" transform="translate(397.2,446.8) rotate(-19)"/>
<rect x="-5.2" y="-2.9" width="10.4" height="5.8" rx="2.3" fill="url(#gGap)" transform="translate(340.4,453.8) rotate(-19)"/>
<rect x="-5.2" y="-2.9" width="10.4" height="5.8" rx="2.3" fill="url(#gGap)" transform="translate(376.6,454.5) rotate(-19)"/>
<rect x="-5.2" y="-2.9" width="10.4" height="5.8" rx="2.3" fill="url(#gGap)" transform="translate(356.0,462.2) rotate(-19)"/>
</g>
<polygon points="229.5,407.5 268.0,394.5 328.0,422.0 291.0,437.5" fill="#0f46c8" />
<g clip-path="url(#cpBlue)">
<ellipse cx="284.0" cy="373.4" rx="10.3" ry="4.7" fill="#2f6ef7"/>
<ellipse cx="284.0" cy="372.3" rx="10.0" ry="4.4" fill="#1b57e6"/>
<ellipse cx="263.4" cy="381.1" rx="10.3" ry="4.7" fill="#2f6ef7"/>
<ellipse cx="263.4" cy="380.0" rx="10.0" ry="4.4" fill="#1b57e6"/>
<ellipse cx="299.6" cy="381.8" rx="10.3" ry="4.7" fill="#2f6ef7"/>
<ellipse cx="299.6" cy="380.7" rx="10.0" ry="4.4" fill="#1b57e6"/>
<ellipse cx="242.8" cy="388.8" rx="10.3" ry="4.7" fill="#2f6ef7"/>
<ellipse cx="242.8" cy="387.7" rx="10.0" ry="4.4" fill="#1b57e6"/>
<ellipse cx="279.0" cy="389.5" rx="10.3" ry="4.7" fill="#2f6ef7"/>
<ellipse cx="279.0" cy="388.4" rx="10.0" ry="4.4" fill="#1b57e6"/>
<ellipse cx="315.2" cy="390.2" rx="10.3" ry="4.7" fill="#2f6ef7"/>
<ellipse cx="315.2" cy="389.1" rx="10.0" ry="4.4" fill="#1b57e6"/>
<ellipse cx="222.2" cy="396.5" rx="10.3" ry="4.7" fill="#2f6ef7"/>
<ellipse cx="222.2" cy="395.4" rx="10.0" ry="4.4" fill="#1b57e6"/>
<ellipse cx="258.4" cy="397.2" rx="10.3" ry="4.7" fill="#2f6ef7"/>
<ellipse cx="258.4" cy="396.1" rx="10.0" ry="4.4" fill="#1b57e6"/>
<ellipse cx="294.6" cy="397.9" rx="10.3" ry="4.7" fill="#2f6ef7"/>
<ellipse cx="294.6" cy="396.8" rx="10.0" ry="4.4" fill="#1b57e6"/>
<ellipse cx="330.8" cy="398.6" rx="10.3" ry="4.7" fill="#2f6ef7"/>
<ellipse cx="330.8" cy="397.5" rx="10.0" ry="4.4" fill="#1b57e6"/>
<ellipse cx="201.6" cy="404.2" rx="10.3" ry="4.7" fill="#2f6ef7"/>
<ellipse cx="201.6" cy="403.1" rx="10.0" ry="4.4" fill="#1b57e6"/>
<ellipse cx="237.8" cy="404.9" rx="10.3" ry="4.7" fill="#2f6ef7"/>
<ellipse cx="237.8" cy="403.8" rx="10.0" ry="4.4" fill="#1b57e6"/>
<ellipse cx="274.0" cy="405.6" rx="10.3" ry="4.7" fill="#2f6ef7"/>
<ellipse cx="274.0" cy="404.5" rx="10.0" ry="4.4" fill="#1b57e6"/>
<ellipse cx="310.2" cy="406.3" rx="10.3" ry="4.7" fill="#2f6ef7"/>
<ellipse cx="310.2" cy="405.2" rx="10.0" ry="4.4" fill="#1b57e6"/>
<ellipse cx="346.4" cy="407.0" rx="10.3" ry="4.7" fill="#2f6ef7"/>
<ellipse cx="346.4" cy="405.9" rx="10.0" ry="4.4" fill="#1b57e6"/>
<ellipse cx="181.0" cy="411.9" rx="10.3" ry="4.7" fill="#2f6ef7"/>
<ellipse cx="181.0" cy="410.8" rx="10.0" ry="4.4" fill="#1b57e6"/>
<ellipse cx="217.2" cy="412.6" rx="10.3" ry="4.7" fill="#2f6ef7"/>
<ellipse cx="217.2" cy="411.5" rx="10.0" ry="4.4" fill="#1b57e6"/>
<ellipse cx="253.4" cy="413.3" rx="10.3" ry="4.7" fill="#2f6ef7"/>
<ellipse cx="253.4" cy="412.2" rx="10.0" ry="4.4" fill="#1b57e6"/>
<ellipse cx="289.6" cy="414.0" rx="10.3" ry="4.7" fill="#2f6ef7"/>
<ellipse cx="289.6" cy="412.9" rx="10.0" ry="4.4" fill="#1b57e6"/>
<ellipse cx="325.8" cy="414.7" rx="10.3" ry="4.7" fill="#2f6ef7"/>
<ellipse cx="325.8" cy="413.6" rx="10.0" ry="4.4" fill="#1b57e6"/>
<ellipse cx="362.0" cy="415.4" rx="10.3" ry="4.7" fill="#2f6ef7"/>
<ellipse cx="362.0" cy="414.3" rx="10.0" ry="4.4" fill="#1b57e6"/>
<ellipse cx="160.4" cy="419.6" rx="10.3" ry="4.7" fill="#2f6ef7"/>
<ellipse cx="160.4" cy="418.5" rx="10.0" ry="4.4" fill="#1b57e6"/>
<ellipse cx="196.6" cy="420.3" rx="10.3" ry="4.7" fill="#2f6ef7"/>
<ellipse cx="196.6" cy="419.2" rx="10.0" ry="4.4" fill="#1b57e6"/>
<ellipse cx="232.8" cy="421.0" rx="10.3" ry="4.7" fill="#2f6ef7"/>
<ellipse cx="232.8" cy="419.9" rx="10.0" ry="4.4" fill="#1b57e6"/>
<ellipse cx="269.0" cy="421.7" rx="10.3" ry="4.7" fill="#2f6ef7"/>
<ellipse cx="269.0" cy="420.6" rx="10.0" ry="4.4" fill="#1b57e6"/>
<ellipse cx="305.2" cy="422.4" rx="10.3" ry="4.7" fill="#2f6ef7"/>
<ellipse cx="305.2" cy="421.3" rx="10.0" ry="4.4" fill="#1b57e6"/>
<ellipse cx="341.4" cy="423.1" rx="10.3" ry="4.7" fill="#2f6ef7"/>
<ellipse cx="341.4" cy="422.0" rx="10.0" ry="4.4" fill="#1b57e6"/>
<ellipse cx="176.0" cy="428.0" rx="10.3" ry="4.7" fill="#2f6ef7"/>
<ellipse cx="176.0" cy="426.9" rx="10.0" ry="4.4" fill="#1b57e6"/>
<ellipse cx="212.2" cy="428.7" rx="10.3" ry="4.7" fill="#2f6ef7"/>
<ellipse cx="212.2" cy="427.6" rx="10.0" ry="4.4" fill="#1b57e6"/>
<ellipse cx="248.4" cy="429.4" rx="10.3" ry="4.7" fill="#2f6ef7"/>
<ellipse cx="248.4" cy="428.3" rx="10.0" ry="4.4" fill="#1b57e6"/>
<ellipse cx="284.6" cy="430.1" rx="10.3" ry="4.7" fill="#2f6ef7"/>
<ellipse cx="284.6" cy="429.0" rx="10.0" ry="4.4" fill="#1b57e6"/>
<ellipse cx="320.8" cy="430.8" rx="10.3" ry="4.7" fill="#2f6ef7"/>
<ellipse cx="320.8" cy="429.7" rx="10.0" ry="4.4" fill="#1b57e6"/>
<ellipse cx="191.6" cy="436.4" rx="10.3" ry="4.7" fill="#2f6ef7"/>
<ellipse cx="191.6" cy="435.3" rx="10.0" ry="4.4" fill="#1b57e6"/>
<ellipse cx="227.8" cy="437.1" rx="10.3" ry="4.7" fill="#2f6ef7"/>
<ellipse cx="227.8" cy="436.0" rx="10.0" ry="4.4" fill="#1b57e6"/>
<ellipse cx="264.0" cy="437.8" rx="10.3" ry="4.7" fill="#2f6ef7"/>
<ellipse cx="264.0" cy="436.7" rx="10.0" ry="4.4" fill="#1b57e6"/>
<ellipse cx="300.2" cy="438.5" rx="10.3" ry="4.7" fill="#2f6ef7"/>
<ellipse cx="300.2" cy="437.4" rx="10.0" ry="4.4" fill="#1b57e6"/>
<ellipse cx="207.2" cy="444.8" rx="10.3" ry="4.7" fill="#2f6ef7"/>
<ellipse cx="207.2" cy="443.7" rx="10.0" ry="4.4" fill="#1b57e6"/>
<ellipse cx="243.4" cy="445.5" rx="10.3" ry="4.7" fill="#2f6ef7"/>
<ellipse cx="243.4" cy="444.4" rx="10.0" ry="4.4" fill="#1b57e6"/>
<ellipse cx="279.6" cy="446.2" rx="10.3" ry="4.7" fill="#2f6ef7"/>
<ellipse cx="279.6" cy="445.1" rx="10.0" ry="4.4" fill="#1b57e6"/>
<ellipse cx="222.8" cy="453.2" rx="10.3" ry="4.7" fill="#2f6ef7"/>
<ellipse cx="222.8" cy="452.1" rx="10.0" ry="4.4" fill="#1b57e6"/>
<ellipse cx="259.0" cy="453.9" rx="10.3" ry="4.7" fill="#2f6ef7"/>
<ellipse cx="259.0" cy="452.8" rx="10.0" ry="4.4" fill="#1b57e6"/>
<ellipse cx="238.4" cy="461.6" rx="10.3" ry="4.7" fill="#2f6ef7"/>
<ellipse cx="238.4" cy="460.5" rx="10.0" ry="4.4" fill="#1b57e6"/>
<rect x="-5.2" y="-2.9" width="10.4" height="5.8" rx="2.3" fill="#0a2f9c" transform="translate(293.0,371.9) rotate(-19)"/>
<rect x="-5.2" y="-2.9" width="10.4" height="5.8" rx="2.3" fill="#0a2f9c" transform="translate(272.4,379.6) rotate(-19)"/>
<rect x="-5.2" y="-2.9" width="10.4" height="5.8" rx="2.3" fill="#0a2f9c" transform="translate(308.6,380.3) rotate(-19)"/>
<rect x="-5.2" y="-2.9" width="10.4" height="5.8" rx="2.3" fill="#0a2f9c" transform="translate(251.8,387.3) rotate(-19)"/>
<rect x="-5.2" y="-2.9" width="10.4" height="5.8" rx="2.3" fill="#0a2f9c" transform="translate(288.0,388.0) rotate(-19)"/>
<rect x="-5.2" y="-2.9" width="10.4" height="5.8" rx="2.3" fill="#0a2f9c" transform="translate(324.2,388.7) rotate(-19)"/>
<rect x="-5.2" y="-2.9" width="10.4" height="5.8" rx="2.3" fill="#0a2f9c" transform="translate(231.2,395.0) rotate(-19)"/>
<rect x="-5.2" y="-2.9" width="10.4" height="5.8" rx="2.3" fill="#0a2f9c" transform="translate(267.4,395.7) rotate(-19)"/>
<rect x="-5.2" y="-2.9" width="10.4" height="5.8" rx="2.3" fill="#0a2f9c" transform="translate(303.6,396.4) rotate(-19)"/>
<rect x="-5.2" y="-2.9" width="10.4" height="5.8" rx="2.3" fill="#0a2f9c" transform="translate(339.8,397.1) rotate(-19)"/>
<rect x="-5.2" y="-2.9" width="10.4" height="5.8" rx="2.3" fill="#0a2f9c" transform="translate(210.6,402.7) rotate(-19)"/>
<rect x="-5.2" y="-2.9" width="10.4" height="5.8" rx="2.3" fill="#0a2f9c" transform="translate(246.8,403.4) rotate(-19)"/>
<rect x="-5.2" y="-2.9" width="10.4" height="5.8" rx="2.3" fill="#0a2f9c" transform="translate(283.0,404.1) rotate(-19)"/>
<rect x="-5.2" y="-2.9" width="10.4" height="5.8" rx="2.3" fill="#0a2f9c" transform="translate(319.2,404.8) rotate(-19)"/>
<rect x="-5.2" y="-2.9" width="10.4" height="5.8" rx="2.3" fill="#0a2f9c" transform="translate(355.4,405.5) rotate(-19)"/>
<rect x="-5.2" y="-2.9" width="10.4" height="5.8" rx="2.3" fill="#0a2f9c" transform="translate(190.0,410.4) rotate(-19)"/>
<rect x="-5.2" y="-2.9" width="10.4" height="5.8" rx="2.3" fill="#0a2f9c" transform="translate(226.2,411.1) rotate(-19)"/>
<rect x="-5.2" y="-2.9" width="10.4" height="5.8" rx="2.3" fill="#0a2f9c" transform="translate(262.4,411.8) rotate(-19)"/>
<rect x="-5.2" y="-2.9" width="10.4" height="5.8" rx="2.3" fill="#0a2f9c" transform="translate(298.6,412.5) rotate(-19)"/>
<rect x="-5.2" y="-2.9" width="10.4" height="5.8" rx="2.3" fill="#0a2f9c" transform="translate(334.8,413.2) rotate(-19)"/>
<rect x="-5.2" y="-2.9" width="10.4" height="5.8" rx="2.3" fill="#0a2f9c" transform="translate(371.0,413.9) rotate(-19)"/>
<rect x="-5.2" y="-2.9" width="10.4" height="5.8" rx="2.3" fill="#0a2f9c" transform="translate(169.4,418.1) rotate(-19)"/>
<rect x="-5.2" y="-2.9" width="10.4" height="5.8" rx="2.3" fill="#0a2f9c" transform="translate(205.6,418.8) rotate(-19)"/>
<rect x="-5.2" y="-2.9" width="10.4" height="5.8" rx="2.3" fill="#0a2f9c" transform="translate(241.8,419.5) rotate(-19)"/>
<rect x="-5.2" y="-2.9" width="10.4" height="5.8" rx="2.3" fill="#0a2f9c" transform="translate(278.0,420.2) rotate(-19)"/>
<rect x="-5.2" y="-2.9" width="10.4" height="5.8" rx="2.3" fill="#0a2f9c" transform="translate(314.2,420.9) rotate(-19)"/>
<rect x="-5.2" y="-2.9" width="10.4" height="5.8" rx="2.3" fill="#0a2f9c" transform="translate(350.4,421.6) rotate(-19)"/>
<rect x="-5.2" y="-2.9" width="10.4" height="5.8" rx="2.3" fill="#0a2f9c" transform="translate(185.0,426.5) rotate(-19)"/>
<rect x="-5.2" y="-2.9" width="10.4" height="5.8" rx="2.3" fill="#0a2f9c" transform="translate(221.2,427.2) rotate(-19)"/>
<rect x="-5.2" y="-2.9" width="10.4" height="5.8" rx="2.3" fill="#0a2f9c" transform="translate(257.4,427.9) rotate(-19)"/>
<rect x="-5.2" y="-2.9" width="10.4" height="5.8" rx="2.3" fill="#0a2f9c" transform="translate(293.6,428.6) rotate(-19)"/>
<rect x="-5.2" y="-2.9" width="10.4" height="5.8" rx="2.3" fill="#0a2f9c" transform="translate(329.8,429.3) rotate(-19)"/>
<rect x="-5.2" y="-2.9" width="10.4" height="5.8" rx="2.3" fill="#0a2f9c" transform="translate(200.6,434.9) rotate(-19)"/>
<rect x="-5.2" y="-2.9" width="10.4" height="5.8" rx="2.3" fill="#0a2f9c" transform="translate(236.8,435.6) rotate(-19)"/>
<rect x="-5.2" y="-2.9" width="10.4" height="5.8" rx="2.3" fill="#0a2f9c" transform="translate(273.0,436.3) rotate(-19)"/>
<rect x="-5.2" y="-2.9" width="10.4" height="5.8" rx="2.3" fill="#0a2f9c" transform="translate(309.2,437.0) rotate(-19)"/>
<rect x="-5.2" y="-2.9" width="10.4" height="5.8" rx="2.3" fill="#0a2f9c" transform="translate(216.2,443.3) rotate(-19)"/>
<rect x="-5.2" y="-2.9" width="10.4" height="5.8" rx="2.3" fill="#0a2f9c" transform="translate(252.4,444.0) rotate(-19)"/>
<rect x="-5.2" y="-2.9" width="10.4" height="5.8" rx="2.3" fill="#0a2f9c" transform="translate(288.6,444.7) rotate(-19)"/>
<rect x="-5.2" y="-2.9" width="10.4" height="5.8" rx="2.3" fill="#0a2f9c" transform="translate(231.8,451.7) rotate(-19)"/>
<rect x="-5.2" y="-2.9" width="10.4" height="5.8" rx="2.3" fill="#0a2f9c" transform="translate(268.0,452.4) rotate(-19)"/>
<rect x="-5.2" y="-2.9" width="10.4" height="5.8" rx="2.3" fill="#0a2f9c" transform="translate(247.4,460.1) rotate(-19)"/>
</g>
<polygon points="250.0,420.0 291.0,437.0 291.0,488.0 272.0,481.0 250.0,472.0" fill="#0b3aae" />
<path d="M236.3,416.0 Q236.7,421.6 236.2,424.4 Q235.7,427.2 235.5,430.0 Q235.3,432.8 235.8,435.6 Q236.3,438.4 236.5,441.2 Q236.7,444.0 236.2,446.8 Q235.7,449.6 235.5,452.4 Q235.3,455.2 235.8,458.0 Q236.3,460.8 236.5,463.6 Q236.7,466.4 236.2,469.2 L235.7,472.0 A10.0,3.4 0 0 0 255.3,472.0 L255.3,472.0 Q255.7,466.4 256.2,463.6 Q256.7,460.8 256.5,458.0 Q256.3,455.2 255.8,452.4 Q255.3,449.6 255.5,446.8 Q255.7,444.0 256.2,441.2 Q256.7,438.4 256.5,435.6 Q256.3,432.8 255.8,430.0 Q255.3,427.2 255.5,424.4 Q255.7,421.6 256.2,418.8 L256.7,416.0 Z" fill="url(#gBlue)" />
<ellipse cx="246.0" cy="416.0" rx="10.0" ry="4.0" fill="#2060ee"/>
<path d="M257.8,424.0 Q258.2,429.7 257.7,432.5 Q257.2,435.4 257.0,438.2 Q256.8,441.1 257.3,444.0 Q257.8,446.8 258.0,449.6 Q258.2,452.5 257.7,455.4 Q257.2,458.2 257.0,461.0 Q256.8,463.9 257.3,466.8 Q257.8,469.6 258.0,472.5 Q258.2,475.3 257.7,478.1 L257.2,481.0 A9.0,3.1 0 0 0 274.8,481.0 L274.8,481.0 Q275.2,475.3 275.7,472.5 Q276.2,469.6 276.0,466.8 Q275.8,463.9 275.3,461.0 Q274.8,458.2 275.0,455.4 Q275.2,452.5 275.7,449.6 Q276.2,446.8 276.0,444.0 Q275.8,441.1 275.3,438.2 Q274.8,435.4 275.0,432.5 Q275.2,429.7 275.7,426.9 L276.2,424.0 Z" fill="url(#gBlue)" />
<ellipse cx="266.5" cy="424.0" rx="9.0" ry="3.6" fill="#2565f2"/>
<path d="M274.8,432.0 Q275.2,437.7 274.7,440.5 Q274.2,443.4 274.0,446.2 Q273.8,449.1 274.3,452.0 Q274.8,454.8 275.0,457.6 Q275.2,460.5 274.7,463.4 Q274.2,466.2 274.0,469.0 Q273.8,471.9 274.3,474.8 Q274.8,477.6 275.0,480.5 Q275.2,483.3 274.7,486.1 L274.2,489.0 A8.2,2.8 0 0 0 290.3,489.0 L290.3,489.0 Q290.7,483.3 291.2,480.5 Q291.7,477.6 291.5,474.8 Q291.3,471.9 290.8,469.0 Q290.3,466.2 290.5,463.4 Q290.7,460.5 291.2,457.6 Q291.7,454.8 291.5,452.0 Q291.3,449.1 290.8,446.2 Q290.3,443.4 290.5,440.5 Q290.7,437.7 291.2,434.9 L291.7,432.0 Z" fill="url(#gBlue)" />
<ellipse cx="282.8" cy="432.0" rx="8.2" ry="3.3" fill="#2565f2"/>
<path d="M290.0,436.5 Q290.7,440.8 289.8,442.9 Q289.0,445.1 288.6,447.2 Q288.3,449.4 289.2,451.5 Q290.0,453.6 290.4,455.8 Q290.7,457.9 289.8,460.1 Q289.0,462.2 288.6,464.4 Q288.3,466.5 289.2,468.6 Q290.0,470.8 290.4,472.9 Q290.7,475.1 289.8,477.2 Q289.0,479.4 288.6,481.5 Q288.3,483.6 289.2,485.8 Q290.0,487.9 290.4,490.1 Q290.7,492.2 289.8,494.4 L289.0,496.5 A7.8,2.6 0 0 0 303.8,496.5 L303.8,496.5 Q304.5,492.2 305.3,490.1 Q306.2,487.9 305.9,485.8 Q305.5,483.6 304.7,481.5 Q303.8,479.4 304.1,477.2 Q304.5,475.1 305.3,472.9 Q306.2,470.8 305.9,468.6 Q305.5,466.5 304.7,464.4 Q303.8,462.2 304.1,460.1 Q304.5,457.9 305.3,455.8 Q306.2,453.6 305.9,451.5 Q305.5,449.4 304.7,447.2 Q303.8,445.1 304.1,442.9 Q304.5,440.8 305.3,438.6 L306.2,436.5 Z" fill="url(#gCyl)" />
<ellipse cx="297.2" cy="437.1" rx="7.8" ry="3.4" fill="#dedede"/>
<ellipse cx="297.2" cy="436.1" rx="7.2" ry="2.9" fill="#cacaca"/>
<path d="M304.5,445.5 Q305.2,449.8 304.3,452.0 Q303.5,454.1 303.1,456.3 Q302.8,458.5 303.7,460.6 Q304.5,462.8 304.9,464.9 Q305.2,467.1 304.3,469.3 Q303.5,471.4 303.1,473.6 Q302.8,475.8 303.7,477.9 Q304.5,480.1 304.9,482.2 Q305.2,484.4 304.3,486.6 Q303.5,488.7 303.1,490.9 Q302.8,493.0 303.7,495.2 Q304.5,497.4 304.9,499.5 Q305.2,501.7 304.3,503.8 L303.5,506.0 A9.0,3.1 0 0 0 320.8,506.0 L320.8,506.0 Q321.5,501.7 322.3,499.5 Q323.2,497.4 322.9,495.2 Q322.5,493.0 321.7,490.9 Q320.8,488.7 321.1,486.6 Q321.5,484.4 322.3,482.2 Q323.2,480.1 322.9,477.9 Q322.5,475.8 321.7,473.6 Q320.8,471.4 321.1,469.3 Q321.5,467.1 322.3,464.9 Q323.2,462.8 322.9,460.6 Q322.5,458.5 321.7,456.3 Q320.8,454.1 321.1,452.0 Q321.5,449.8 322.3,447.7 L323.2,445.5 Z" fill="url(#gCyl)" />
<ellipse cx="313.0" cy="446.1" rx="9.0" ry="4.0" fill="#dedede"/>
<ellipse cx="313.0" cy="445.1" rx="8.4" ry="3.4" fill="#cacaca"/>
<path d="M321.5,453.0 Q322.2,457.3 321.3,459.4 Q320.5,461.6 320.1,463.7 Q319.8,465.9 320.7,468.0 Q321.5,470.1 321.9,472.3 Q322.2,474.4 321.3,476.6 Q320.5,478.7 320.1,480.9 Q319.8,483.0 320.7,485.1 Q321.5,487.3 321.9,489.4 Q322.2,491.6 321.3,493.7 Q320.5,495.9 320.1,498.0 Q319.8,500.1 320.7,502.3 Q321.5,504.4 321.9,506.6 Q322.2,508.7 321.3,510.9 L320.5,513.0 A8.2,2.8 0 0 0 336.3,513.0 L336.3,513.0 Q337.0,508.7 337.8,506.6 Q338.7,504.4 338.4,502.3 Q338.0,500.1 337.2,498.0 Q336.3,495.9 336.6,493.7 Q337.0,491.6 337.8,489.4 Q338.7,487.3 338.4,485.1 Q338.0,483.0 337.2,480.9 Q336.3,478.7 336.6,476.6 Q337.0,474.4 337.8,472.3 Q338.7,470.1 338.4,468.0 Q338.0,465.9 337.2,463.7 Q336.3,461.6 336.6,459.4 Q337.0,457.3 337.8,455.1 L338.7,453.0 Z" fill="url(#gCyl)" />
<ellipse cx="329.2" cy="453.6" rx="8.2" ry="3.6" fill="#dedede"/>
<ellipse cx="329.2" cy="452.6" rx="7.7" ry="3.1" fill="#cacaca"/>
<path d="M419.2,431.8 Q419.9,436.0 419.0,438.1 Q418.2,440.2 417.8,442.3 Q417.5,444.4 418.4,446.5 Q419.2,448.6 419.6,450.7 Q419.9,452.8 419.0,454.9 Q418.2,457.0 417.8,459.1 Q417.5,461.1 418.4,463.2 Q419.2,465.3 419.6,467.4 Q419.9,469.5 419.0,471.6 Q418.2,473.7 417.8,475.8 Q417.5,477.9 418.4,480.0 Q419.2,482.1 419.6,484.2 Q419.9,486.3 419.0,488.4 L418.2,490.5 A10.9,3.7 0 0 0 439.3,490.5 L439.3,490.5 Q440.0,486.3 440.8,484.2 Q441.7,482.1 441.4,480.0 Q441.0,477.9 440.2,475.8 Q439.3,473.7 439.6,471.6 Q440.0,469.5 440.8,467.4 Q441.7,465.3 441.4,463.2 Q441.0,461.1 440.2,459.1 Q439.3,457.0 439.6,454.9 Q440.0,452.8 440.8,450.7 Q441.7,448.6 441.4,446.5 Q441.0,444.4 440.2,442.3 Q439.3,440.2 439.6,438.1 Q440.0,436.0 440.8,433.9 L441.7,431.8 Z" fill="url(#gCyl)" />
<ellipse cx="429.6" cy="432.4" rx="10.9" ry="4.8" fill="#dedede"/>
<ellipse cx="429.6" cy="431.4" rx="10.3" ry="4.1" fill="#cacaca"/>
<path d="M399.1,438.2 Q399.8,442.4 398.9,444.5 Q398.1,446.6 397.7,448.7 Q397.4,450.8 398.3,452.9 Q399.1,455.0 399.5,457.1 Q399.8,459.2 398.9,461.3 Q398.1,463.4 397.7,465.5 Q397.4,467.6 398.3,469.7 Q399.1,471.8 399.5,473.9 Q399.8,476.0 398.9,478.1 Q398.1,480.2 397.7,482.3 Q397.4,484.4 398.3,486.5 Q399.1,488.6 399.5,490.7 Q399.8,492.8 398.9,494.9 L398.1,497.0 A10.4,3.6 0 0 0 418.3,497.0 L418.3,497.0 Q419.0,492.8 419.8,490.7 Q420.7,488.6 420.4,486.5 Q420.0,484.4 419.2,482.3 Q418.3,480.2 418.6,478.1 Q419.0,476.0 419.8,473.9 Q420.7,471.8 420.4,469.7 Q420.0,467.6 419.2,465.5 Q418.3,463.4 418.6,461.3 Q419.0,459.2 419.8,457.1 Q420.7,455.0 420.4,452.9 Q420.0,450.8 419.2,448.7 Q418.3,446.6 418.6,444.5 Q419.0,442.4 419.8,440.3 L420.7,438.2 Z" fill="url(#gCyl)" />
<ellipse cx="409.1" cy="438.8" rx="10.4" ry="4.6" fill="#dedede"/>
<ellipse cx="409.1" cy="437.8" rx="9.8" ry="4.0" fill="#cacaca"/>
<path d="M379.1,445.5 Q379.8,449.7 378.9,451.8 Q378.1,453.9 377.7,456.1 Q377.4,458.2 378.3,460.3 Q379.1,462.4 379.5,464.5 Q379.8,466.6 378.9,468.7 Q378.1,470.8 377.7,472.9 Q377.4,475.1 378.3,477.2 Q379.1,479.3 379.5,481.4 Q379.8,483.5 378.9,485.6 Q378.1,487.7 377.7,489.8 Q377.4,491.9 378.3,494.0 Q379.1,496.2 379.5,498.3 Q379.8,500.4 378.9,502.5 L378.1,504.6 A10.4,3.6 0 0 0 398.3,504.6 L398.3,504.6 Q399.0,500.4 399.8,498.3 Q400.7,496.2 400.4,494.0 Q400.0,491.9 399.2,489.8 Q398.3,487.7 398.6,485.6 Q399.0,483.5 399.8,481.4 Q400.7,479.3 400.4,477.2 Q400.0,475.1 399.2,472.9 Q398.3,470.8 398.6,468.7 Q399.0,466.6 399.8,464.5 Q400.7,462.4 400.4,460.3 Q400.0,458.2 399.2,456.1 Q398.3,453.9 398.6,451.8 Q399.0,449.7 399.8,447.6 L400.7,445.5 Z" fill="url(#gCyl)" />
<ellipse cx="389.1" cy="446.1" rx="10.4" ry="4.6" fill="#dedede"/>
<ellipse cx="389.1" cy="445.1" rx="9.8" ry="4.0" fill="#cacaca"/>
<path d="M358.5,453.0 Q359.2,457.3 358.3,459.4 Q357.5,461.6 357.1,463.7 Q356.8,465.9 357.7,468.0 Q358.5,470.1 358.9,472.3 Q359.2,474.4 358.3,476.6 Q357.5,478.7 357.1,480.9 Q356.8,483.0 357.7,485.1 Q358.5,487.3 358.9,489.4 Q359.2,491.6 358.3,493.7 Q357.5,495.9 357.1,498.0 Q356.8,500.1 357.7,502.3 Q358.5,504.4 358.9,506.6 Q359.2,508.7 358.3,510.9 L357.5,513.0 A10.8,3.7 0 0 0 378.3,513.0 L378.3,513.0 Q379.0,508.7 379.8,506.6 Q380.7,504.4 380.4,502.3 Q380.0,500.1 379.2,498.0 Q378.3,495.9 378.6,493.7 Q379.0,491.6 379.8,489.4 Q380.7,487.3 380.4,485.1 Q380.0,483.0 379.2,480.9 Q378.3,478.7 378.6,476.6 Q379.0,474.4 379.8,472.3 Q380.7,470.1 380.4,468.0 Q380.0,465.9 379.2,463.7 Q378.3,461.6 378.6,459.4 Q379.0,457.3 379.8,455.1 L380.7,453.0 Z" fill="url(#gCyl)" />
<ellipse cx="368.8" cy="453.6" rx="10.8" ry="4.7" fill="#dedede"/>
<ellipse cx="368.8" cy="452.6" rx="10.2" ry="4.1" fill="#cacaca"/>
<path d="M336.7,461.5 Q337.4,465.9 336.5,468.0 Q335.7,470.2 335.3,472.4 Q335.0,474.6 335.9,476.8 Q336.7,478.9 337.1,481.1 Q337.4,483.3 336.5,485.5 Q335.7,487.6 335.3,489.8 Q335.0,492.0 335.9,494.2 Q336.7,496.4 337.1,498.5 Q337.4,500.7 336.5,502.9 Q335.7,505.1 335.3,507.2 Q335.0,509.4 335.9,511.6 Q336.7,513.8 337.1,516.0 Q337.4,518.1 336.5,520.3 L335.7,522.5 A11.4,3.9 0 0 0 357.8,522.5 L357.8,522.5 Q358.5,518.1 359.3,516.0 Q360.2,513.8 359.9,511.6 Q359.5,509.4 358.7,507.2 Q357.8,505.1 358.1,502.9 Q358.5,500.7 359.3,498.5 Q360.2,496.4 359.9,494.2 Q359.5,492.0 358.7,489.8 Q357.8,487.6 358.1,485.5 Q358.5,483.3 359.3,481.1 Q360.2,478.9 359.9,476.8 Q359.5,474.6 358.7,472.4 Q357.8,470.2 358.1,468.0 Q358.5,465.9 359.3,463.7 L360.2,461.5 Z" fill="url(#gCyl)" />
<ellipse cx="347.6" cy="462.1" rx="11.4" ry="5.0" fill="#dedede"/>
<ellipse cx="347.6" cy="461.1" rx="10.8" ry="4.3" fill="#cacaca"/>
<polygon points="169.0,403.8 238.7,381.7 264.0,391.2 229.2,407.0 250.3,421.8 206.0,421.8 188.0,413.3" fill="#cccccc" />
<polygon points="229.2,407.0 264.0,391.2 268.0,394.5 233.0,410.0" fill="#cdcdcd" />
<polygon points="188.0,413.3 229.2,407.0 250.3,421.8 206.0,421.8" fill="#d2d2d2" />
<polygon points="169.0,403.8 188.0,413.3 188.0,474.6 170.0,465.0" fill="#d8d8d8" />
<polygon points="188.0,413.3 206.0,421.8 206.0,485.1 188.0,474.6" fill="#e4e4e4" />
<polygon points="206.0,421.8 252.3,421.8 252.8,486.2 206.0,485.1" fill="#e8e8e8" />
<line x1="252.5" y1="421.8" x2="252.8" y2="486.2" stroke="#f4f4f4" stroke-width="1"/>
<polygon points="441.3,425.5 488.4,425.9 552.8,403.3 481.0,373.7 448.2,385.3 499.0,405.4" fill="#c6c6c6" />
<polygon points="481.0,373.7 552.8,403.3 540.0,408.0 470.0,378.0" fill="#cbcbcb" />
<polygon points="441.3,425.5 488.4,425.9 488.4,490.5 441.6,489.9" fill="#e1e1e1" />
<polygon points="488.4,425.9 552.8,403.3 552.8,465.0 488.4,490.5" fill="#dddddd" />
<line x1="441.6" y1="425.5" x2="441.8" y2="489.9" stroke="#efefef" stroke-width="1"/>
<polyline points="169.0,403.8 188.0,413.3 206.0,421.8 252.3,421.8" fill="none" stroke="#ececec" stroke-width="1.2"/>
<polyline points="441.3,425.5 488.4,425.9 552.8,403.3" fill="none" stroke="#ececec" stroke-width="1.2"/>
<polygon points="170.0,346.7 384.0,267.7 552.0,346.0 338.0,425.0" fill="url(#gcpMesh2)" />
<polygon points="170.0,346.7 384.0,267.7 552.0,346.0 338.0,425.0" fill="url(#mesh)" />
<path d="M163.7,324.0 Q173.4,328.5 178.3,330.3 Q183.1,332.2 188.0,334.5 Q192.8,336.8 197.7,339.2 Q202.5,341.7 207.4,343.5 Q212.3,345.3 217.1,347.2 Q222.0,349.2 226.8,351.8 Q231.7,354.4 236.5,356.5 Q241.4,358.5 246.2,360.2 Q251.1,361.8 256.0,364.5 Q260.8,367.1 265.7,369.4 Q270.5,371.6 275.4,373.3 Q280.2,374.9 285.1,377.2 Q289.9,379.4 294.8,381.9 Q299.7,384.3 304.5,386.1 Q309.4,387.9 314.2,390.0 Q319.1,392.2 323.9,394.6 Q328.8,396.9 333.6,399.0 L338.5,401.0 L338.5,401.0 Q348.5,397.6 353.5,395.7 Q358.4,393.7 363.4,392.1 Q368.4,390.6 373.4,389.2 Q378.4,387.7 383.4,385.6 Q388.3,383.4 393.3,381.8 Q398.3,380.1 403.3,378.7 Q408.3,377.3 413.3,375.3 Q418.2,373.3 423.2,371.2 Q428.2,369.1 433.2,368.0 Q438.2,366.8 443.2,365.1 Q448.1,363.3 453.1,361.0 Q458.1,358.7 463.1,357.4 Q468.1,356.1 473.1,354.7 Q478.1,353.3 483.0,351.0 Q488.0,348.7 493.0,347.1 Q498.0,345.4 503.0,344.1 Q508.0,342.9 512.9,340.8 Q517.9,338.8 522.9,336.8 Q527.9,334.9 532.9,333.6 Q537.9,332.3 542.8,330.4 Q547.8,328.6 552.8,326.8 L557.8,325.0 L557.8,329.8 Q547.8,333.4 542.8,335.2 Q537.9,337.1 532.9,338.4 Q527.9,339.7 522.9,341.7 Q517.9,343.7 512.9,345.7 Q508.0,347.8 503.0,349.0 Q498.0,350.3 493.0,352.0 Q488.0,353.7 483.0,355.9 Q478.1,358.2 473.1,359.6 Q468.1,361.0 463.1,362.3 Q458.1,363.6 453.1,366.0 Q448.1,368.3 443.2,370.1 Q438.2,371.8 433.2,373.0 Q428.2,374.1 423.2,376.2 Q418.2,378.3 413.3,380.3 Q408.3,382.4 403.3,383.8 Q398.3,385.2 393.3,386.9 Q388.3,388.5 383.4,390.7 Q378.4,392.9 373.4,394.3 Q368.4,395.7 363.4,397.3 Q358.4,398.9 353.5,400.8 Q348.5,402.8 343.5,404.5 L338.5,406.2 L338.8,406.2 Q329.1,402.1 324.2,399.7 Q319.4,397.3 314.5,395.1 Q309.7,392.9 304.8,391.1 Q300.0,389.3 295.1,386.8 Q290.2,384.4 285.4,382.1 Q280.5,379.8 275.7,378.1 Q270.8,376.5 266.0,374.2 Q261.1,371.9 256.3,369.2 Q251.4,366.5 246.5,364.9 Q241.7,363.2 236.8,361.1 Q232.0,359.0 227.1,356.4 Q222.3,353.7 217.4,351.7 Q212.6,349.8 207.7,347.9 Q202.8,346.1 198.0,343.6 Q193.1,341.1 188.3,338.8 Q183.4,336.5 178.6,334.6 Q173.7,332.7 168.9,330.5 L164.0,328.2 Z" fill="#c39a6f" />
<path d="M163.7,324.0 Q173.4,328.5 178.3,330.3 Q183.1,332.2 188.0,334.5 Q192.8,336.8 197.7,339.2 Q202.5,341.7 207.4,343.5 Q212.3,345.3 217.1,347.2 Q222.0,349.2 226.8,351.8 Q231.7,354.4 236.5,356.5 Q241.4,358.5 246.2,360.2 Q251.1,361.8 256.0,364.5 Q260.8,367.1 265.7,369.4 Q270.5,371.6 275.4,373.3 Q280.2,374.9 285.1,377.2 Q289.9,379.4 294.8,381.9 Q299.7,384.3 304.5,386.1 Q309.4,387.9 314.2,390.0 Q319.1,392.2 323.9,394.6 Q328.8,396.9 333.6,399.0 L338.5,401.0 L338.5,401.0 Q348.5,397.6 353.5,395.7 Q358.4,393.7 363.4,392.1 Q368.4,390.6 373.4,389.2 Q378.4,387.7 383.4,385.6 Q388.3,383.4 393.3,381.8 Q398.3,380.1 403.3,378.7 Q408.3,377.3 413.3,375.3 Q418.2,373.3 423.2,371.2 Q428.2,369.1 433.2,368.0 Q438.2,366.8 443.2,365.1 Q448.1,363.3 453.1,361.0 Q458.1,358.7 463.1,357.4 Q468.1,356.1 473.1,354.7 Q478.1,353.3 483.0,351.0 Q488.0,348.7 493.0,347.1 Q498.0,345.4 503.0,344.1 Q508.0,342.9 512.9,340.8 Q517.9,338.8 522.9,336.8 Q527.9,334.9 532.9,333.6 Q537.9,332.3 542.8,330.4 Q547.8,328.6 552.8,326.8 L557.8,325.0 L557.8,329.8 Q547.8,333.4 542.8,335.2 Q537.9,337.1 532.9,338.4 Q527.9,339.7 522.9,341.7 Q517.9,343.7 512.9,345.7 Q508.0,347.8 503.0,349.0 Q498.0,350.3 493.0,352.0 Q488.0,353.7 483.0,355.9 Q478.1,358.2 473.1,359.6 Q468.1,361.0 463.1,362.3 Q458.1,363.6 453.1,366.0 Q448.1,368.3 443.2,370.1 Q438.2,371.8 433.2,373.0 Q428.2,374.1 423.2,376.2 Q418.2,378.3 413.3,380.3 Q408.3,382.4 403.3,383.8 Q398.3,385.2 393.3,386.9 Q388.3,388.5 383.4,390.7 Q378.4,392.9 373.4,394.3 Q368.4,395.7 363.4,397.3 Q358.4,398.9 353.5,400.8 Q348.5,402.8 343.5,404.5 L338.5,406.2 L338.8,406.2 Q329.1,402.1 324.2,399.7 Q319.4,397.3 314.5,395.1 Q309.7,392.9 304.8,391.1 Q300.0,389.3 295.1,386.8 Q290.2,384.4 285.4,382.1 Q280.5,379.8 275.7,378.1 Q270.8,376.5 266.0,374.2 Q261.1,371.9 256.3,369.2 Q251.4,366.5 246.5,364.9 Q241.7,363.2 236.8,361.1 Q232.0,359.0 227.1,356.4 Q222.3,353.7 217.4,351.7 Q212.6,349.8 207.7,347.9 Q202.8,346.1 198.0,343.6 Q193.1,341.1 188.3,338.8 Q183.4,336.5 178.6,334.6 Q173.7,332.7 168.9,330.5 L164.0,328.2 Z" fill="#b98a5e" filter="url(#nCoco)" opacity="0.35"/>
<path d="M163.7,324.0 Q173.4,328.5 178.3,330.3 Q183.1,332.2 188.0,334.5 Q192.8,336.8 197.7,339.2 Q202.5,341.7 207.4,343.5 Q212.3,345.3 217.1,347.2 Q222.0,349.2 226.8,351.8 Q231.7,354.4 236.5,356.5 Q241.4,358.5 246.2,360.2 Q251.1,361.8 256.0,364.5 Q260.8,367.1 265.7,369.4 Q270.5,371.6 275.4,373.3 Q280.2,374.9 285.1,377.2 Q289.9,379.4 294.8,381.9 Q299.7,384.3 304.5,386.1 Q309.4,387.9 314.2,390.0 Q319.1,392.2 323.9,394.6 Q328.8,396.9 333.6,399.0 L338.5,401.0 L338.5,401.0 Q348.5,397.6 353.5,395.7 Q358.4,393.7 363.4,392.1 Q368.4,390.6 373.4,389.2 Q378.4,387.7 383.4,385.6 Q388.3,383.4 393.3,381.8 Q398.3,380.1 403.3,378.7 Q408.3,377.3 413.3,375.3 Q418.2,373.3 423.2,371.2 Q428.2,369.1 433.2,368.0 Q438.2,366.8 443.2,365.1 Q448.1,363.3 453.1,361.0 Q458.1,358.7 463.1,357.4 Q468.1,356.1 473.1,354.7 Q478.1,353.3 483.0,351.0 Q488.0,348.7 493.0,347.1 Q498.0,345.4 503.0,344.1 Q508.0,342.9 512.9,340.8 Q517.9,338.8 522.9,336.8 Q527.9,334.9 532.9,333.6 Q537.9,332.3 542.8,330.4 Q547.8,328.6 552.8,326.8 L557.8,325.0 L383.0,248.0 Z" fill="#85583a" filter="url(#nCoco)"/>
<path d="M163.7,324.0 Q173.4,328.5 178.3,330.3 Q183.1,332.2 188.0,334.5 Q192.8,336.8 197.7,339.2 Q202.5,341.7 207.4,343.5 Q212.3,345.3 217.1,347.2 Q222.0,349.2 226.8,351.8 Q231.7,354.4 236.5,356.5 Q241.4,358.5 246.2,360.2 Q251.1,361.8 256.0,364.5 Q260.8,367.1 265.7,369.4 Q270.5,371.6 275.4,373.3 Q280.2,374.9 285.1,377.2 Q289.9,379.4 294.8,381.9 Q299.7,384.3 304.5,386.1 Q309.4,387.9 314.2,390.0 Q319.1,392.2 323.9,394.6 Q328.8,396.9 333.6,399.0 L338.5,401.0 L338.5,401.0 Q348.5,397.6 353.5,395.7 Q358.4,393.7 363.4,392.1 Q368.4,390.6 373.4,389.2 Q378.4,387.7 383.4,385.6 Q388.3,383.4 393.3,381.8 Q398.3,380.1 403.3,378.7 Q408.3,377.3 413.3,375.3 Q418.2,373.3 423.2,371.2 Q428.2,369.1 433.2,368.0 Q438.2,366.8 443.2,365.1 Q448.1,363.3 453.1,361.0 Q458.1,358.7 463.1,357.4 Q468.1,356.1 473.1,354.7 Q478.1,353.3 483.0,351.0 Q488.0,348.7 493.0,347.1 Q498.0,345.4 503.0,344.1 Q508.0,342.9 512.9,340.8 Q517.9,338.8 522.9,336.8 Q527.9,334.9 532.9,333.6 Q537.9,332.3 542.8,330.4 Q547.8,328.6 552.8,326.8 L557.8,325.0 L383.0,248.0 Z" fill="url(#gCocoLt)" />
<path d="M163.2,288.8 L195.0,302.5 L228.5,317.0 L236.0,329.0 L243.0,326.0 L254.0,333.0 L262.0,338.5 L270.0,334.0 L281.0,342.0 L289.0,345.5 L296.0,342.5 L309.0,348.5 L337.3,360.0 L337.3,360.0 Q351.0,356.5 358.0,354.2 Q365.0,352.0 371.0,350.2 Q377.0,348.5 383.5,347.0 Q390.0,345.5 394.0,344.5 Q398.0,343.5 401.5,340.0 Q405.0,336.5 409.0,334.8 Q413.0,333.0 417.1,332.0 Q421.3,331.0 430.6,328.2 Q440.0,325.5 450.5,322.0 Q461.0,318.5 469.0,316.2 Q477.0,314.0 483.5,312.8 Q490.0,311.5 496.5,309.5 Q503.0,307.5 508.9,305.0 Q514.7,302.5 519.4,301.8 Q524.0,301.0 528.6,300.1 Q533.3,299.3 536.6,296.9 Q540.0,294.5 542.5,292.9 Q545.0,291.3 548.5,291.8 Q552.0,292.3 554.5,290.6 Q557.0,289.0 559.1,287.9 L561.3,286.7 L561.3,286.7 Q556.7,284.0 550.9,283.8 Q545.0,283.6 539.8,283.2 Q534.5,282.8 531.0,280.5 Q527.5,278.2 524.0,275.1 Q520.5,272.0 517.8,272.5 Q515.0,273.0 512.5,274.1 Q510.0,275.3 505.4,271.1 Q500.7,267.0 497.2,265.3 Q493.7,263.6 486.1,262.7 Q478.5,261.8 472.6,256.9 Q466.8,252.0 427.0,233.8 L387.2,215.5 Z" fill="url(#gGreenTop)" />
<g clip-path="url(#cpGreen)">
<ellipse cx="176.0" cy="289.5" rx="6.6" ry="3.0" fill="url(#gDimple)"/>
<path d="M170.0,292.3 q6,3.6 12,0" fill="none" stroke="#a8ca88" stroke-width="1.4" opacity="0.85"/>
<ellipse cx="188.5" cy="295.7" rx="6.6" ry="3.0" fill="url(#gDimple)"/>
<path d="M182.5,298.5 q6,3.6 12,0" fill="none" stroke="#a8ca88" stroke-width="1.4" opacity="0.85"/>
<ellipse cx="201.0" cy="301.9" rx="6.6" ry="3.0" fill="url(#gDimple)"/>
<path d="M195.0,304.7 q6,3.6 12,0" fill="none" stroke="#a8ca88" stroke-width="1.4" opacity="0.85"/>
<ellipse cx="213.5" cy="308.1" rx="6.6" ry="3.0" fill="url(#gDimple)"/>
<path d="M207.5,310.9 q6,3.6 12,0" fill="none" stroke="#a8ca88" stroke-width="1.4" opacity="0.85"/>
<ellipse cx="226.0" cy="314.3" rx="6.6" ry="3.0" fill="url(#gDimple)"/>
<path d="M220.0,317.1 q6,3.6 12,0" fill="none" stroke="#a8ca88" stroke-width="1.4" opacity="0.85"/>
<ellipse cx="238.5" cy="320.5" rx="6.6" ry="3.0" fill="url(#gDimple)"/>
<path d="M232.5,323.3 q6,3.6 12,0" fill="none" stroke="#a8ca88" stroke-width="1.4" opacity="0.85"/>
<ellipse cx="251.0" cy="326.7" rx="6.6" ry="3.0" fill="url(#gDimple)"/>
<path d="M245.0,329.5 q6,3.6 12,0" fill="none" stroke="#a8ca88" stroke-width="1.4" opacity="0.85"/>
<ellipse cx="191.5" cy="285.3" rx="6.6" ry="3.0" fill="url(#gDimple)"/>
<path d="M185.5,288.1 q6,3.6 12,0" fill="none" stroke="#a8ca88" stroke-width="1.4" opacity="0.85"/>
<ellipse cx="204.0" cy="291.5" rx="6.6" ry="3.0" fill="url(#gDimple)"/>
<path d="M198.0,294.3 q6,3.6 12,0" fill="none" stroke="#a8ca88" stroke-width="1.4" opacity="0.85"/>
<ellipse cx="216.5" cy="297.7" rx="6.6" ry="3.0" fill="url(#gDimple)"/>
<path d="M210.5,300.5 q6,3.6 12,0" fill="none" stroke="#a8ca88" stroke-width="1.4" opacity="0.85"/>
<ellipse cx="229.0" cy="303.9" rx="6.6" ry="3.0" fill="url(#gDimple)"/>
<path d="M223.0,306.7 q6,3.6 12,0" fill="none" stroke="#a8ca88" stroke-width="1.4" opacity="0.85"/>
<ellipse cx="241.5" cy="310.1" rx="6.6" ry="3.0" fill="url(#gDimple)"/>
<path d="M235.5,312.9 q6,3.6 12,0" fill="none" stroke="#a8ca88" stroke-width="1.4" opacity="0.85"/>
<ellipse cx="254.0" cy="316.3" rx="6.6" ry="3.0" fill="url(#gDimple)"/>
<path d="M248.0,319.1 q6,3.6 12,0" fill="none" stroke="#a8ca88" stroke-width="1.4" opacity="0.85"/>
<ellipse cx="266.5" cy="322.5" rx="6.6" ry="3.0" fill="url(#gDimple)"/>
<path d="M260.5,325.3 q6,3.6 12,0" fill="none" stroke="#a8ca88" stroke-width="1.4" opacity="0.85"/>
<ellipse cx="207.0" cy="281.1" rx="6.6" ry="3.0" fill="url(#gDimple)"/>
<path d="M201.0,283.9 q6,3.6 12,0" fill="none" stroke="#a8ca88" stroke-width="1.4" opacity="0.85"/>
<ellipse cx="219.5" cy="287.3" rx="6.6" ry="3.0" fill="url(#gDimple)"/>
<path d="M213.5,290.1 q6,3.6 12,0" fill="none" stroke="#a8ca88" stroke-width="1.4" opacity="0.85"/>
<ellipse cx="232.0" cy="293.5" rx="6.6" ry="3.0" fill="url(#gDimple)"/>
<path d="M226.0,296.3 q6,3.6 12,0" fill="none" stroke="#a8ca88" stroke-width="1.4" opacity="0.85"/>
<ellipse cx="244.5" cy="299.7" rx="6.6" ry="3.0" fill="url(#gDimple)"/>
<path d="M238.5,302.5 q6,3.6 12,0" fill="none" stroke="#a8ca88" stroke-width="1.4" opacity="0.85"/>
<ellipse cx="257.0" cy="305.9" rx="6.6" ry="3.0" fill="url(#gDimple)"/>
<path d="M251.0,308.7 q6,3.6 12,0" fill="none" stroke="#a8ca88" stroke-width="1.4" opacity="0.85"/>
<ellipse cx="269.5" cy="312.1" rx="6.6" ry="3.0" fill="url(#gDimple)"/>
<path d="M263.5,314.9 q6,3.6 12,0" fill="none" stroke="#a8ca88" stroke-width="1.4" opacity="0.85"/>
<ellipse cx="282.0" cy="318.3" rx="6.6" ry="3.0" fill="url(#gDimple)"/>
<path d="M276.0,321.1 q6,3.6 12,0" fill="none" stroke="#a8ca88" stroke-width="1.4" opacity="0.85"/>
<ellipse cx="222.5" cy="276.9" rx="6.6" ry="3.0" fill="url(#gDimple)"/>
<path d="M216.5,279.7 q6,3.6 12,0" fill="none" stroke="#a8ca88" stroke-width="1.4" opacity="0.85"/>
<ellipse cx="235.0" cy="283.1" rx="6.6" ry="3.0" fill="url(#gDimple)"/>
<path d="M229.0,285.9 q6,3.6 12,0" fill="none" stroke="#a8ca88" stroke-width="1.4" opacity="0.85"/>
<ellipse cx="247.5" cy="289.3" rx="6.6" ry="3.0" fill="url(#gDimple)"/>
<path d="M241.5,292.1 q6,3.6 12,0" fill="none" stroke="#a8ca88" stroke-width="1.4" opacity="0.85"/>
<ellipse cx="260.0" cy="295.5" rx="6.6" ry="3.0" fill="url(#gDimple)"/>
<path d="M254.0,298.3 q6,3.6 12,0" fill="none" stroke="#a8ca88" stroke-width="1.4" opacity="0.85"/>
<ellipse cx="272.5" cy="301.7" rx="6.6" ry="3.0" fill="url(#gDimple)"/>
<path d="M266.5,304.5 q6,3.6 12,0" fill="none" stroke="#a8ca88" stroke-width="1.4" opacity="0.85"/>
<ellipse cx="285.0" cy="307.9" rx="6.6" ry="3.0" fill="url(#gDimple)"/>
<path d="M279.0,310.7 q6,3.6 12,0" fill="none" stroke="#a8ca88" stroke-width="1.4" opacity="0.85"/>
<ellipse cx="238.0" cy="272.7" rx="6.6" ry="3.0" fill="url(#gDimple)"/>
<path d="M232.0,275.5 q6,3.6 12,0" fill="none" stroke="#a8ca88" stroke-width="1.4" opacity="0.85"/>
<ellipse cx="250.5" cy="278.9" rx="6.6" ry="3.0" fill="url(#gDimple)"/>
<path d="M244.5,281.7 q6,3.6 12,0" fill="none" stroke="#a8ca88" stroke-width="1.4" opacity="0.85"/>
<ellipse cx="263.0" cy="285.1" rx="6.6" ry="3.0" fill="url(#gDimple)"/>
<path d="M257.0,287.9 q6,3.6 12,0" fill="none" stroke="#a8ca88" stroke-width="1.4" opacity="0.85"/>
<ellipse cx="275.5" cy="291.3" rx="6.6" ry="3.0" fill="url(#gDimple)"/>
<path d="M269.5,294.1 q6,3.6 12,0" fill="none" stroke="#a8ca88" stroke-width="1.4" opacity="0.85"/>
<ellipse cx="288.0" cy="297.5" rx="6.6" ry="3.0" fill="url(#gDimple)"/>
<path d="M282.0,300.3 q6,3.6 12,0" fill="none" stroke="#a8ca88" stroke-width="1.4" opacity="0.85"/>
<ellipse cx="300.5" cy="303.7" rx="6.6" ry="3.0" fill="url(#gDimple)"/>
<path d="M294.5,306.5 q6,3.6 12,0" fill="none" stroke="#a8ca88" stroke-width="1.4" opacity="0.85"/>
<ellipse cx="313.0" cy="309.9" rx="6.6" ry="3.0" fill="url(#gDimple)"/>
<path d="M307.0,312.7 q6,3.6 12,0" fill="none" stroke="#a8ca88" stroke-width="1.4" opacity="0.85"/>
<ellipse cx="253.5" cy="268.5" rx="6.6" ry="3.0" fill="url(#gDimple)"/>
<path d="M247.5,271.3 q6,3.6 12,0" fill="none" stroke="#a8ca88" stroke-width="1.4" opacity="0.85"/>
<ellipse cx="266.0" cy="274.7" rx="6.6" ry="3.0" fill="url(#gDimple)"/>
<path d="M260.0,277.5 q6,3.6 12,0" fill="none" stroke="#a8ca88" stroke-width="1.4" opacity="0.85"/>
<ellipse cx="278.5" cy="280.9" rx="6.6" ry="3.0" fill="url(#gDimple)"/>
<path d="M272.5,283.7 q6,3.6 12,0" fill="none" stroke="#a8ca88" stroke-width="1.4" opacity="0.85"/>
<ellipse cx="291.0" cy="287.1" rx="6.6" ry="3.0" fill="url(#gDimple)"/>
<path d="M285.0,289.9 q6,3.6 12,0" fill="none" stroke="#a8ca88" stroke-width="1.4" opacity="0.85"/>
<ellipse cx="303.5" cy="293.3" rx="6.6" ry="3.0" fill="url(#gDimple)"/>
<path d="M297.5,296.1 q6,3.6 12,0" fill="none" stroke="#a8ca88" stroke-width="1.4" opacity="0.85"/>
<ellipse cx="316.0" cy="299.5" rx="6.6" ry="3.0" fill="url(#gDimple)"/>
<path d="M310.0,302.3 q6,3.6 12,0" fill="none" stroke="#a8ca88" stroke-width="1.4" opacity="0.85"/>
<ellipse cx="269.0" cy="264.3" rx="6.6" ry="3.0" fill="url(#gDimple)"/>
<path d="M263.0,267.1 q6,3.6 12,0" fill="none" stroke="#a8ca88" stroke-width="1.4" opacity="0.85"/>
<ellipse cx="281.5" cy="270.5" rx="6.6" ry="3.0" fill="url(#gDimple)"/>
<path d="M275.5,273.3 q6,3.6 12,0" fill="none" stroke="#a8ca88" stroke-width="1.4" opacity="0.85"/>
<ellipse cx="294.0" cy="276.7" rx="6.6" ry="3.0" fill="url(#gDimple)"/>
<path d="M288.0,279.5 q6,3.6 12,0" fill="none" stroke="#a8ca88" stroke-width="1.4" opacity="0.85"/>
<ellipse cx="306.5" cy="282.9" rx="6.6" ry="3.0" fill="url(#gDimple)"/>
<path d="M300.5,285.7 q6,3.6 12,0" fill="none" stroke="#a8ca88" stroke-width="1.4" opacity="0.85"/>
<ellipse cx="284.5" cy="260.1" rx="6.6" ry="3.0" fill="url(#gDimple)"/>
<path d="M278.5,262.9 q6,3.6 12,0" fill="none" stroke="#a8ca88" stroke-width="1.4" opacity="0.85"/>
<ellipse cx="297.0" cy="266.3" rx="6.6" ry="3.0" fill="url(#gDimple)"/>
<path d="M291.0,269.1 q6,3.6 12,0" fill="none" stroke="#a8ca88" stroke-width="1.4" opacity="0.85"/>
<ellipse cx="309.5" cy="272.5" rx="6.6" ry="3.0" fill="url(#gDimple)"/>
<path d="M303.5,275.3 q6,3.6 12,0" fill="none" stroke="#a8ca88" stroke-width="1.4" opacity="0.85"/>
<ellipse cx="300.0" cy="255.9" rx="6.6" ry="3.0" fill="url(#gDimple)"/>
<path d="M294.0,258.7 q6,3.6 12,0" fill="none" stroke="#a8ca88" stroke-width="1.4" opacity="0.85"/>
<ellipse cx="312.5" cy="262.1" rx="6.6" ry="3.0" fill="url(#gDimple)"/>
<path d="M306.5,264.9 q6,3.6 12,0" fill="none" stroke="#a8ca88" stroke-width="1.4" opacity="0.85"/>
<ellipse cx="315.5" cy="251.7" rx="6.6" ry="3.0" fill="url(#gDimple)"/>
<path d="M309.5,254.5 q6,3.6 12,0" fill="none" stroke="#a8ca88" stroke-width="1.4" opacity="0.85"/>
<g filter="url(#soft05)">
<ellipse cx="437.5" cy="275.2" rx="36.0" ry="14.5" fill="#6c8c4f"/>
<ellipse cx="436.7" cy="274.0" rx="32.4" ry="13.1" fill="#8fb170"/>
<ellipse cx="435.9" cy="273.1" rx="30.2" ry="11.9" fill="#a3c583"/>
<ellipse cx="437.3" cy="274.6" rx="25.9" ry="10.1" fill="#97b977"/>
<ellipse cx="436.4" cy="273.4" rx="18.0" ry="7.2" fill="#67874a"/>
<ellipse cx="437.7" cy="274.9" rx="14.4" ry="5.4" fill="#84a665"/>
<ellipse cx="437.0" cy="273.2" rx="3.6" ry="2.6" fill="#a9cb89"/>
<ellipse cx="372.8" cy="295.0" rx="38.0" ry="14.5" fill="#6c8c4f"/>
<ellipse cx="372.0" cy="293.8" rx="34.2" ry="13.1" fill="#8fb170"/>
<ellipse cx="371.2" cy="292.9" rx="31.9" ry="11.9" fill="#a3c583"/>
<ellipse cx="372.6" cy="294.4" rx="27.4" ry="10.1" fill="#97b977"/>
<ellipse cx="371.7" cy="293.2" rx="19.0" ry="7.2" fill="#67874a"/>
<ellipse cx="373.0" cy="294.7" rx="15.2" ry="5.4" fill="#84a665"/>
<ellipse cx="372.3" cy="293.0" rx="3.6" ry="2.6" fill="#a9cb89"/>
<ellipse cx="492.8" cy="295.0" rx="43.0" ry="16.5" fill="#6c8c4f"/>
<ellipse cx="492.0" cy="293.8" rx="38.7" ry="14.8" fill="#8fb170"/>
<ellipse cx="491.2" cy="292.9" rx="36.1" ry="13.5" fill="#a3c583"/>
<ellipse cx="492.6" cy="294.4" rx="31.0" ry="11.5" fill="#97b977"/>
<ellipse cx="491.7" cy="293.2" rx="21.5" ry="8.2" fill="#67874a"/>
<ellipse cx="493.0" cy="294.7" rx="17.2" ry="6.1" fill="#84a665"/>
<ellipse cx="492.3" cy="293.0" rx="3.6" ry="2.6" fill="#a9cb89"/>
<ellipse cx="297.8" cy="318.2" rx="38.0" ry="14.5" fill="#6c8c4f"/>
<ellipse cx="297.0" cy="317.0" rx="34.2" ry="13.1" fill="#8fb170"/>
<ellipse cx="296.2" cy="316.1" rx="31.9" ry="11.9" fill="#a3c583"/>
<ellipse cx="297.6" cy="317.6" rx="27.4" ry="10.1" fill="#97b977"/>
<ellipse cx="296.7" cy="316.4" rx="19.0" ry="7.2" fill="#67874a"/>
<ellipse cx="298.0" cy="317.9" rx="15.2" ry="5.4" fill="#84a665"/>
<ellipse cx="297.3" cy="316.2" rx="3.6" ry="2.6" fill="#a9cb89"/>
<ellipse cx="424.8" cy="316.2" rx="39.5" ry="14.5" fill="#6c8c4f"/>
<ellipse cx="424.0" cy="315.0" rx="35.6" ry="13.1" fill="#8fb170"/>
<ellipse cx="423.2" cy="314.1" rx="33.2" ry="11.9" fill="#a3c583"/>
<ellipse cx="424.6" cy="315.6" rx="28.4" ry="10.1" fill="#97b977"/>
<ellipse cx="423.7" cy="314.4" rx="19.8" ry="7.2" fill="#67874a"/>
<ellipse cx="425.0" cy="315.9" rx="15.8" ry="5.4" fill="#84a665"/>
<ellipse cx="424.3" cy="314.2" rx="3.6" ry="2.6" fill="#a9cb89"/>
<ellipse cx="354.8" cy="337.9" rx="45.0" ry="16.5" fill="#6c8c4f"/>
<ellipse cx="354.0" cy="336.7" rx="40.5" ry="14.8" fill="#8fb170"/>
<ellipse cx="353.2" cy="335.8" rx="37.8" ry="13.5" fill="#a3c583"/>
<ellipse cx="354.6" cy="337.3" rx="32.4" ry="11.5" fill="#97b977"/>
<ellipse cx="353.7" cy="336.1" rx="22.5" ry="8.2" fill="#67874a"/>
<ellipse cx="355.0" cy="337.6" rx="18.0" ry="6.1" fill="#84a665"/>
<ellipse cx="354.3" cy="335.9" rx="3.6" ry="2.6" fill="#a9cb89"/>
<ellipse cx="548.8" cy="267.2" rx="28.0" ry="10.0" fill="#6c8c4f"/>
<ellipse cx="548.0" cy="266.0" rx="25.2" ry="9.0" fill="#8fb170"/>
<ellipse cx="547.2" cy="265.1" rx="23.5" ry="8.2" fill="#a3c583"/>
<ellipse cx="548.6" cy="266.6" rx="20.2" ry="7.0" fill="#97b977"/>
<ellipse cx="547.7" cy="265.4" rx="14.0" ry="5.0" fill="#67874a"/>
<ellipse cx="549.0" cy="266.9" rx="11.2" ry="3.7" fill="#84a665"/>
<ellipse cx="548.3" cy="265.2" rx="3.6" ry="2.6" fill="#a9cb89"/>
<ellipse cx="318.8" cy="267.2" rx="30.0" ry="11.0" fill="#6c8c4f"/>
<ellipse cx="318.0" cy="266.0" rx="27.0" ry="9.9" fill="#8fb170"/>
<ellipse cx="317.2" cy="265.1" rx="25.2" ry="9.0" fill="#a3c583"/>
<ellipse cx="318.6" cy="266.6" rx="21.6" ry="7.7" fill="#97b977"/>
<ellipse cx="317.7" cy="265.4" rx="15.0" ry="5.5" fill="#67874a"/>
<ellipse cx="319.0" cy="266.9" rx="12.0" ry="4.1" fill="#84a665"/>
<ellipse cx="318.3" cy="265.2" rx="3.6" ry="2.6" fill="#a9cb89"/>
</g>
<ellipse cx="431.5" cy="294.0" rx="5" ry="3.2" fill="#a9cf88"/>
<ellipse cx="432.5" cy="297.6" rx="8" ry="2.2" fill="#6b9250" opacity="0.7"/>
<ellipse cx="517.0" cy="268.0" rx="5" ry="3.2" fill="#a9cf88"/>
<ellipse cx="518.0" cy="271.6" rx="8" ry="2.2" fill="#6b9250" opacity="0.7"/>
<ellipse cx="365.0" cy="316.0" rx="5" ry="3.2" fill="#a9cf88"/>
<ellipse cx="366.0" cy="319.6" rx="8" ry="2.2" fill="#6b9250" opacity="0.7"/>
<path d="M337.3,360.0 Q351.0,356.5 358.0,354.2 Q365.0,352.0 371.0,350.2 Q377.0,348.5 383.5,347.0 Q390.0,345.5 394.0,344.5 Q398.0,343.5 401.5,340.0 Q405.0,336.5 409.0,334.8 Q413.0,333.0 417.1,332.0 Q421.3,331.0 430.6,328.2 Q440.0,325.5 450.5,322.0 Q461.0,318.5 469.0,316.2 Q477.0,314.0 483.5,312.8 Q490.0,311.5 496.5,309.5 Q503.0,307.5 508.9,305.0 Q514.7,302.5 519.4,301.8 Q524.0,301.0 528.6,300.1 Q533.3,299.3 536.6,296.9 Q540.0,294.5 542.5,292.9 Q545.0,291.3 548.5,291.8 Q552.0,292.3 554.5,290.6 Q557.0,289.0 559.1,287.9 L561.3,286.7" fill="none" stroke="#759c58" stroke-width="5" opacity="0.6" transform="translate(0,-4)"/>
</g>
<path d="M163.2,288.8 L195.0,302.5 L228.5,317.0 L236.0,329.0 L243.0,326.0 L254.0,333.0 L262.0,338.5 L270.0,334.0 L281.0,342.0 L289.0,345.5 L296.0,342.5 L309.0,348.5 L337.3,360.0 L337.3,382.0 L164.2,305.5 Z" fill="#b8da9a" />
<path d="M337.3,360.0 Q351.0,356.5 358.0,354.2 Q365.0,352.0 371.0,350.2 Q377.0,348.5 383.5,347.0 Q390.0,345.5 394.0,344.5 Q398.0,343.5 401.5,340.0 Q405.0,336.5 409.0,334.8 Q413.0,333.0 417.1,332.0 Q421.3,331.0 430.6,328.2 Q440.0,325.5 450.5,322.0 Q461.0,318.5 469.0,316.2 Q477.0,314.0 483.5,312.8 Q490.0,311.5 496.5,309.5 Q503.0,307.5 508.9,305.0 Q514.7,302.5 519.4,301.8 Q524.0,301.0 528.6,300.1 Q533.3,299.3 536.6,296.9 Q540.0,294.5 542.5,292.9 Q545.0,291.3 548.5,291.8 Q552.0,292.3 554.5,290.6 Q557.0,289.0 559.1,287.9 L561.3,286.7 L561.3,307.7 L337.3,382.0 Z" fill="#b0d393" />
<path d="M163.2,288.8 L195.0,302.5 L228.5,317.0 L236.0,329.0 L243.0,326.0 L254.0,333.0 L262.0,338.5 L270.0,334.0 L281.0,342.0 L289.0,345.5 L296.0,342.5 L309.0,348.5 L337.3,360.0" fill="none" stroke="#cbe8b2" stroke-width="1.3"/>
<path d="M337.3,360.0 Q351.0,356.5 358.0,354.2 Q365.0,352.0 371.0,350.2 Q377.0,348.5 383.5,347.0 Q390.0,345.5 394.0,344.5 Q398.0,343.5 401.5,340.0 Q405.0,336.5 409.0,334.8 Q413.0,333.0 417.1,332.0 Q421.3,331.0 430.6,328.2 Q440.0,325.5 450.5,322.0 Q461.0,318.5 469.0,316.2 Q477.0,314.0 483.5,312.8 Q490.0,311.5 496.5,309.5 Q503.0,307.5 508.9,305.0 Q514.7,302.5 519.4,301.8 Q524.0,301.0 528.6,300.1 Q533.3,299.3 536.6,296.9 Q540.0,294.5 542.5,292.9 Q545.0,291.3 548.5,291.8 Q552.0,292.3 554.5,290.6 Q557.0,289.0 559.1,287.9 L561.3,286.7" fill="none" stroke="#c4e3aa" stroke-width="1.3"/>
<line x1="337.3" y1="360.0" x2="337.3" y2="382.0" stroke="#c9ecab" stroke-width="1"/>
<polygon points="163.7,224.2 389.2,154.3 556.5,224.6 331.0,294.5" fill="url(#gcpMesh1)" />
<polygon points="163.7,224.2 389.2,154.3 556.5,224.6 331.0,294.5" fill="url(#mesh)" />
<path d="M161.6,201.6 Q178.4,208.2 186.8,210.2 Q195.2,212.1 203.7,215.6 Q212.1,219.1 220.5,222.8 Q228.9,226.5 237.3,228.5 Q245.7,230.5 254.1,233.3 Q262.5,236.2 270.9,240.1 Q279.3,244.0 287.8,246.6 Q296.2,249.3 304.6,251.6 Q313.0,253.9 321.4,257.2 L329.8,260.5 L329.8,260.5 Q347.5,255.9 356.4,252.9 Q365.2,249.9 374.1,248.4 Q382.9,246.9 391.8,245.2 Q400.6,243.6 409.5,239.4 Q418.3,235.3 427.2,233.7 Q436.0,232.2 444.9,230.7 Q453.8,229.1 462.6,225.9 Q471.5,222.7 480.3,219.7 Q489.2,216.7 498.0,215.6 Q506.9,214.5 515.7,211.7 Q524.6,208.8 533.4,206.0 Q542.3,203.1 551.1,201.2 L560.0,199.3 L560.0,208.2 Q542.3,212.9 533.4,215.7 Q524.6,218.6 515.7,221.1 Q506.9,223.7 498.0,224.8 Q489.2,225.8 480.3,229.3 Q471.5,232.8 462.6,236.6 Q453.8,240.5 444.9,242.4 Q436.0,244.3 427.2,245.7 Q418.3,247.0 409.5,250.9 Q400.6,254.9 391.8,256.6 Q382.9,258.4 374.1,260.5 Q365.2,262.6 356.4,266.2 Q347.5,269.8 338.7,272.3 L329.8,274.8 L330.3,274.3 Q313.5,266.3 305.1,263.8 Q296.7,261.4 288.2,258.9 Q279.8,256.5 271.4,252.7 Q263.0,248.8 254.6,245.5 Q246.2,242.2 237.8,239.5 Q229.4,236.9 221.0,233.1 Q212.6,229.3 204.2,226.1 Q195.7,222.8 187.3,220.9 Q178.9,218.9 170.5,215.0 L162.1,211.1 Z" fill="#e9ebe1" filter="url(#nCream)"/>
<path d="M329.8,260.5 Q347.5,255.9 356.4,252.9 Q365.2,249.9 374.1,248.4 Q382.9,246.9 391.8,245.2 Q400.6,243.6 409.5,239.4 Q418.3,235.3 427.2,233.7 Q436.0,232.2 444.9,230.7 Q453.8,229.1 462.6,225.9 Q471.5,222.7 480.3,219.7 Q489.2,216.7 498.0,215.6 Q506.9,214.5 515.7,211.7 Q524.6,208.8 533.4,206.0 Q542.3,203.1 551.1,201.2 L560.0,199.3 L560.0,208.2 Q542.3,212.9 533.4,215.7 Q524.6,218.6 515.7,221.1 Q506.9,223.7 498.0,224.8 Q489.2,225.8 480.3,229.3 Q471.5,232.8 462.6,236.6 Q453.8,240.5 444.9,242.4 Q436.0,244.3 427.2,245.7 Q418.3,247.0 409.5,250.9 Q400.6,254.9 391.8,256.6 Q382.9,258.4 374.1,260.5 Q365.2,262.6 356.4,266.2 Q347.5,269.8 338.7,272.3 L329.8,274.8 Z" fill="#8b8f7c" opacity="0.10"/>
<path d="M161.6,201.6 Q178.4,208.2 186.8,210.2 Q195.2,212.1 203.7,215.6 Q212.1,219.1 220.5,222.8 Q228.9,226.5 237.3,228.5 Q245.7,230.5 254.1,233.3 Q262.5,236.2 270.9,240.1 Q279.3,244.0 287.8,246.6 Q296.2,249.3 304.6,251.6 Q313.0,253.9 321.4,257.2 L329.8,260.5 L329.8,260.5 Q347.5,255.9 356.4,252.9 Q365.2,249.9 374.1,248.4 Q382.9,246.9 391.8,245.2 Q400.6,243.6 409.5,239.4 Q418.3,235.3 427.2,233.7 Q436.0,232.2 444.9,230.7 Q453.8,229.1 462.6,225.9 Q471.5,222.7 480.3,219.7 Q489.2,216.7 498.0,215.6 Q506.9,214.5 515.7,211.7 Q524.6,208.8 533.4,206.0 Q542.3,203.1 551.1,201.2 L560.0,199.3 L391.8,140.4 Z" fill="url(#gFib51)" />
<g clip-path="url(#cpFib51)">
<path d="M161.6,201.6 Q178.4,208.2 186.8,210.2 Q195.2,212.1 203.7,215.6 Q212.1,219.1 220.5,222.8 Q228.9,226.5 237.3,228.5 Q245.7,230.5 254.1,233.3 Q262.5,236.2 270.9,240.1 Q279.3,244.0 287.8,246.6 Q296.2,249.3 304.6,251.6 Q313.0,253.9 321.4,257.2 L329.8,260.5 L329.8,260.5 Q347.5,255.9 356.4,252.9 Q365.2,249.9 374.1,248.4 Q382.9,246.9 391.8,245.2 Q400.6,243.6 409.5,239.4 Q418.3,235.3 427.2,233.7 Q436.0,232.2 444.9,230.7 Q453.8,229.1 462.6,225.9 Q471.5,222.7 480.3,219.7 Q489.2,216.7 498.0,215.6 Q506.9,214.5 515.7,211.7 Q524.6,208.8 533.4,206.0 Q542.3,203.1 551.1,201.2 L560.0,199.3 L560.0,192.3 Q542.3,196.1 533.4,199.0 Q524.6,201.8 515.7,204.7 Q506.9,207.5 498.0,208.6 Q489.2,209.7 480.3,212.7 Q471.5,215.7 462.6,218.9 Q453.8,222.1 444.9,223.7 Q436.0,225.2 427.2,226.7 Q418.3,228.3 409.5,232.4 Q400.6,236.6 391.8,238.2 Q382.9,239.9 374.1,241.4 Q365.2,242.9 356.4,245.9 Q347.5,248.9 338.7,251.2 Q329.8,253.5 329.8,253.5 Q329.8,253.5 321.4,250.2 Q313.0,246.9 304.6,244.6 Q296.2,242.3 287.8,239.6 Q279.3,237.0 270.9,233.1 Q262.5,229.2 254.1,226.3 Q245.7,223.5 237.3,221.5 Q228.9,219.5 220.5,215.8 Q212.1,212.1 203.7,208.6 Q195.2,205.1 186.8,203.2 Q178.4,201.2 170.0,197.9 L161.6,194.6 Z" fill="#e4e6dd" opacity="0.55" filter="url(#soft)"/>
</g>
<line x1="195.2" y1="213.4" x2="225.2" y2="183.4" stroke="#b2b5a8" stroke-width="1.1" opacity="0.6"/>
<line x1="232.2" y1="226.3" x2="262.2" y2="196.3" stroke="#b2b5a8" stroke-width="1.1" opacity="0.6"/>
<line x1="265.9" y1="238.1" x2="295.9" y2="208.1" stroke="#b2b5a8" stroke-width="1.1" opacity="0.6"/>
<line x1="299.5" y1="249.9" x2="329.5" y2="219.9" stroke="#b2b5a8" stroke-width="1.1" opacity="0.6"/>
<line x1="357.4" y1="253.2" x2="345.4" y2="223.2" stroke="#b2b5a8" stroke-width="1.1" opacity="0.6"/>
<line x1="403.5" y1="240.9" x2="391.5" y2="210.9" stroke="#b2b5a8" stroke-width="1.1" opacity="0.6"/>
<line x1="456.4" y1="226.8" x2="444.4" y2="196.8" stroke="#b2b5a8" stroke-width="1.1" opacity="0.6"/>
<line x1="504.8" y1="214.0" x2="492.8" y2="184.0" stroke="#b2b5a8" stroke-width="1.1" opacity="0.6"/>
<line x1="543.9" y1="203.6" x2="531.9" y2="173.6" stroke="#b2b5a8" stroke-width="1.1" opacity="0.6"/>
<g clip-path="url(#cpFib51)">
<path d="M160,170 Q215,150.5 280,133 Q335,117 384.5,104 Q440,125 500,146.5 Q535,159.5 559,170.7 Q446,213.5 325.3,244.5 Q275,222.5 219.7,194 Q185,179 160,170 Z" fill="#7c8070" opacity="0.22" transform="translate(1,4)" filter="url(#soft)"/>
</g>
<path d="M160,170 Q215,150.5 280,133 Q335,117 384.5,104 Q440,125 500,146.5 Q535,159.5 559,170.7 Q446,213.5 325.3,244.5 Q275,222.5 219.7,194 Q185,179 160,170 Z" fill="url(#gCover)" />
<g clip-path="url(#cpCover)">
<polygon points="160,170 215,150 260,175 215,195" fill="#dedede" opacity="0.35" filter="url(#soft2)"/>
<polygon points="450,150 559,170 470,205 420,185" fill="#dcdcdc" opacity="0.30" filter="url(#soft2)"/>
<polygon points="300,125 384,100 470,128 400,150" fill="#e2e2e2" opacity="0.35" filter="url(#soft2)"/>
<path d="M150,119.5 Q350,116.5 570,119.0" fill="none" stroke="#d2d2d2" stroke-width="1.1"/>
<path d="M150,120.7 Q350,117.7 570,120.2" fill="none" stroke="#fbfbfb" stroke-width="1.0"/>
<path d="M150,132.5 Q350,129.5 570,132.0" fill="none" stroke="#d2d2d2" stroke-width="1.1"/>
<path d="M150,133.7 Q350,130.7 570,133.2" fill="none" stroke="#fbfbfb" stroke-width="1.0"/>
<path d="M150,146.5 Q350,143.5 570,146.0" fill="none" stroke="#d2d2d2" stroke-width="1.1"/>
<path d="M150,147.7 Q350,144.7 570,147.2" fill="none" stroke="#fbfbfb" stroke-width="1.0"/>
<path d="M150,160.0 Q350,157.0 570,159.5" fill="none" stroke="#d2d2d2" stroke-width="1.1"/>
<path d="M150,161.2 Q350,158.2 570,160.7" fill="none" stroke="#fbfbfb" stroke-width="1.0"/>
<path d="M150,173.5 Q350,170.5 570,173.0" fill="none" stroke="#d2d2d2" stroke-width="1.1"/>
<path d="M150,174.7 Q350,171.7 570,174.2" fill="none" stroke="#fbfbfb" stroke-width="1.0"/>
<path d="M150,187.5 Q350,184.5 570,187.0" fill="none" stroke="#d2d2d2" stroke-width="1.1"/>
<path d="M150,188.7 Q350,185.7 570,188.2" fill="none" stroke="#fbfbfb" stroke-width="1.0"/>
<path d="M150,202.0 Q350,199.0 570,201.5" fill="none" stroke="#d2d2d2" stroke-width="1.1"/>
<path d="M150,203.2 Q350,200.2 570,202.7" fill="none" stroke="#fbfbfb" stroke-width="1.0"/>
<path d="M150,216.5 Q350,213.5 570,216.0" fill="none" stroke="#d2d2d2" stroke-width="1.1"/>
<path d="M150,217.7 Q350,214.7 570,217.2" fill="none" stroke="#fbfbfb" stroke-width="1.0"/>
<path d="M150,231.0 Q350,228.0 570,230.5" fill="none" stroke="#d2d2d2" stroke-width="1.1"/>
<path d="M150,232.2 Q350,229.2 570,231.7" fill="none" stroke="#fbfbfb" stroke-width="1.0"/>
<line x1="150.0" y1="118.0" x2="144.2" y2="131.0" stroke="#d0d0d0" stroke-width="1.1"/>
<line x1="151.2" y1="118.0" x2="145.3" y2="131.0" stroke="#fafafa" stroke-width="0.9"/>
<line x1="224.0" y1="118.0" x2="218.2" y2="131.0" stroke="#d0d0d0" stroke-width="1.1"/>
<line x1="225.2" y1="118.0" x2="219.3" y2="131.0" stroke="#fafafa" stroke-width="0.9"/>
<line x1="298.0" y1="118.0" x2="292.1" y2="131.0" stroke="#d0d0d0" stroke-width="1.1"/>
<line x1="299.2" y1="118.0" x2="293.3" y2="131.0" stroke="#fafafa" stroke-width="0.9"/>
<line x1="372.0" y1="118.0" x2="366.1" y2="131.0" stroke="#d0d0d0" stroke-width="1.1"/>
<line x1="373.2" y1="118.0" x2="367.3" y2="131.0" stroke="#fafafa" stroke-width="0.9"/>
<line x1="446.0" y1="118.0" x2="440.1" y2="131.0" stroke="#d0d0d0" stroke-width="1.1"/>
<line x1="447.2" y1="118.0" x2="441.3" y2="131.0" stroke="#fafafa" stroke-width="0.9"/>
<line x1="520.0" y1="118.0" x2="514.1" y2="131.0" stroke="#d0d0d0" stroke-width="1.1"/>
<line x1="521.2" y1="118.0" x2="515.4" y2="131.0" stroke="#fafafa" stroke-width="0.9"/>
<line x1="594.0" y1="118.0" x2="588.1" y2="131.0" stroke="#d0d0d0" stroke-width="1.1"/>
<line x1="595.2" y1="118.0" x2="589.4" y2="131.0" stroke="#fafafa" stroke-width="0.9"/>
<line x1="196.0" y1="131.0" x2="189.7" y2="145.0" stroke="#d0d0d0" stroke-width="1.1"/>
<line x1="197.2" y1="131.0" x2="190.9" y2="145.0" stroke="#fafafa" stroke-width="0.9"/>
<line x1="270.0" y1="131.0" x2="263.7" y2="145.0" stroke="#d0d0d0" stroke-width="1.1"/>
<line x1="271.2" y1="131.0" x2="264.9" y2="145.0" stroke="#fafafa" stroke-width="0.9"/>
<line x1="344.0" y1="131.0" x2="337.7" y2="145.0" stroke="#d0d0d0" stroke-width="1.1"/>
<line x1="345.2" y1="131.0" x2="338.9" y2="145.0" stroke="#fafafa" stroke-width="0.9"/>
<line x1="418.0" y1="131.0" x2="411.7" y2="145.0" stroke="#d0d0d0" stroke-width="1.1"/>
<line x1="419.2" y1="131.0" x2="412.9" y2="145.0" stroke="#fafafa" stroke-width="0.9"/>
<line x1="492.0" y1="131.0" x2="485.7" y2="145.0" stroke="#d0d0d0" stroke-width="1.1"/>
<line x1="493.2" y1="131.0" x2="486.9" y2="145.0" stroke="#fafafa" stroke-width="0.9"/>
<line x1="566.0" y1="131.0" x2="559.7" y2="145.0" stroke="#d0d0d0" stroke-width="1.1"/>
<line x1="567.2" y1="131.0" x2="560.9" y2="145.0" stroke="#fafafa" stroke-width="0.9"/>
<line x1="168.0" y1="145.0" x2="161.9" y2="158.5" stroke="#d0d0d0" stroke-width="1.1"/>
<line x1="169.2" y1="145.0" x2="163.1" y2="158.5" stroke="#fafafa" stroke-width="0.9"/>
<line x1="242.0" y1="145.0" x2="235.9" y2="158.5" stroke="#d0d0d0" stroke-width="1.1"/>
<line x1="243.2" y1="145.0" x2="237.1" y2="158.5" stroke="#fafafa" stroke-width="0.9"/>
<line x1="316.0" y1="145.0" x2="309.9" y2="158.5" stroke="#d0d0d0" stroke-width="1.1"/>
<line x1="317.2" y1="145.0" x2="311.1" y2="158.5" stroke="#fafafa" stroke-width="0.9"/>
<line x1="390.0" y1="145.0" x2="383.9" y2="158.5" stroke="#d0d0d0" stroke-width="1.1"/>
<line x1="391.2" y1="145.0" x2="385.1" y2="158.5" stroke="#fafafa" stroke-width="0.9"/>
<line x1="464.0" y1="145.0" x2="457.9" y2="158.5" stroke="#d0d0d0" stroke-width="1.1"/>
<line x1="465.2" y1="145.0" x2="459.1" y2="158.5" stroke="#fafafa" stroke-width="0.9"/>
<line x1="538.0" y1="145.0" x2="531.9" y2="158.5" stroke="#d0d0d0" stroke-width="1.1"/>
<line x1="539.2" y1="145.0" x2="533.1" y2="158.5" stroke="#fafafa" stroke-width="0.9"/>
<line x1="191.0" y1="158.5" x2="184.9" y2="172.0" stroke="#d0d0d0" stroke-width="1.1"/>
<line x1="192.2" y1="158.5" x2="186.1" y2="172.0" stroke="#fafafa" stroke-width="0.9"/>
<line x1="265.0" y1="158.5" x2="258.9" y2="172.0" stroke="#d0d0d0" stroke-width="1.1"/>
<line x1="266.2" y1="158.5" x2="260.1" y2="172.0" stroke="#fafafa" stroke-width="0.9"/>
<line x1="339.0" y1="158.5" x2="332.9" y2="172.0" stroke="#d0d0d0" stroke-width="1.1"/>
<line x1="340.2" y1="158.5" x2="334.1" y2="172.0" stroke="#fafafa" stroke-width="0.9"/>
<line x1="413.0" y1="158.5" x2="406.9" y2="172.0" stroke="#d0d0d0" stroke-width="1.1"/>
<line x1="414.2" y1="158.5" x2="408.1" y2="172.0" stroke="#fafafa" stroke-width="0.9"/>
<line x1="487.0" y1="158.5" x2="480.9" y2="172.0" stroke="#d0d0d0" stroke-width="1.1"/>
<line x1="488.2" y1="158.5" x2="482.1" y2="172.0" stroke="#fafafa" stroke-width="0.9"/>
<line x1="561.0" y1="158.5" x2="554.9" y2="172.0" stroke="#d0d0d0" stroke-width="1.1"/>
<line x1="562.2" y1="158.5" x2="556.1" y2="172.0" stroke="#fafafa" stroke-width="0.9"/>
<line x1="163.0" y1="172.0" x2="156.7" y2="186.0" stroke="#d0d0d0" stroke-width="1.1"/>
<line x1="164.2" y1="172.0" x2="157.9" y2="186.0" stroke="#fafafa" stroke-width="0.9"/>
<line x1="237.0" y1="172.0" x2="230.7" y2="186.0" stroke="#d0d0d0" stroke-width="1.1"/>
<line x1="238.2" y1="172.0" x2="231.9" y2="186.0" stroke="#fafafa" stroke-width="0.9"/>
<line x1="311.0" y1="172.0" x2="304.7" y2="186.0" stroke="#d0d0d0" stroke-width="1.1"/>
<line x1="312.2" y1="172.0" x2="305.9" y2="186.0" stroke="#fafafa" stroke-width="0.9"/>
<line x1="385.0" y1="172.0" x2="378.7" y2="186.0" stroke="#d0d0d0" stroke-width="1.1"/>
<line x1="386.2" y1="172.0" x2="379.9" y2="186.0" stroke="#fafafa" stroke-width="0.9"/>
<line x1="459.0" y1="172.0" x2="452.7" y2="186.0" stroke="#d0d0d0" stroke-width="1.1"/>
<line x1="460.2" y1="172.0" x2="453.9" y2="186.0" stroke="#fafafa" stroke-width="0.9"/>
<line x1="533.0" y1="172.0" x2="526.7" y2="186.0" stroke="#d0d0d0" stroke-width="1.1"/>
<line x1="534.2" y1="172.0" x2="527.9" y2="186.0" stroke="#fafafa" stroke-width="0.9"/>
<line x1="209.0" y1="186.0" x2="202.5" y2="200.5" stroke="#d0d0d0" stroke-width="1.1"/>
<line x1="210.2" y1="186.0" x2="203.7" y2="200.5" stroke="#fafafa" stroke-width="0.9"/>
<line x1="283.0" y1="186.0" x2="276.5" y2="200.5" stroke="#d0d0d0" stroke-width="1.1"/>
<line x1="284.2" y1="186.0" x2="277.7" y2="200.5" stroke="#fafafa" stroke-width="0.9"/>
<line x1="357.0" y1="186.0" x2="350.5" y2="200.5" stroke="#d0d0d0" stroke-width="1.1"/>
<line x1="358.2" y1="186.0" x2="351.7" y2="200.5" stroke="#fafafa" stroke-width="0.9"/>
<line x1="431.0" y1="186.0" x2="424.5" y2="200.5" stroke="#d0d0d0" stroke-width="1.1"/>
<line x1="432.2" y1="186.0" x2="425.7" y2="200.5" stroke="#fafafa" stroke-width="0.9"/>
<line x1="505.0" y1="186.0" x2="498.5" y2="200.5" stroke="#d0d0d0" stroke-width="1.1"/>
<line x1="506.2" y1="186.0" x2="499.7" y2="200.5" stroke="#fafafa" stroke-width="0.9"/>
<line x1="579.0" y1="186.0" x2="572.5" y2="200.5" stroke="#d0d0d0" stroke-width="1.1"/>
<line x1="580.2" y1="186.0" x2="573.7" y2="200.5" stroke="#fafafa" stroke-width="0.9"/>
<line x1="158.0" y1="200.5" x2="151.5" y2="215.0" stroke="#d0d0d0" stroke-width="1.1"/>
<line x1="159.2" y1="200.5" x2="152.7" y2="215.0" stroke="#fafafa" stroke-width="0.9"/>
<line x1="232.0" y1="200.5" x2="225.5" y2="215.0" stroke="#d0d0d0" stroke-width="1.1"/>
<line x1="233.2" y1="200.5" x2="226.7" y2="215.0" stroke="#fafafa" stroke-width="0.9"/>
<line x1="306.0" y1="200.5" x2="299.5" y2="215.0" stroke="#d0d0d0" stroke-width="1.1"/>
<line x1="307.2" y1="200.5" x2="300.7" y2="215.0" stroke="#fafafa" stroke-width="0.9"/>
<line x1="380.0" y1="200.5" x2="373.5" y2="215.0" stroke="#d0d0d0" stroke-width="1.1"/>
<line x1="381.2" y1="200.5" x2="374.7" y2="215.0" stroke="#fafafa" stroke-width="0.9"/>
<line x1="454.0" y1="200.5" x2="447.5" y2="215.0" stroke="#d0d0d0" stroke-width="1.1"/>
<line x1="455.2" y1="200.5" x2="448.7" y2="215.0" stroke="#fafafa" stroke-width="0.9"/>
<line x1="528.0" y1="200.5" x2="521.5" y2="215.0" stroke="#d0d0d0" stroke-width="1.1"/>
<line x1="529.2" y1="200.5" x2="522.7" y2="215.0" stroke="#fafafa" stroke-width="0.9"/>
<line x1="204.0" y1="215.0" x2="197.5" y2="229.5" stroke="#d0d0d0" stroke-width="1.1"/>
<line x1="205.2" y1="215.0" x2="198.7" y2="229.5" stroke="#fafafa" stroke-width="0.9"/>
<line x1="278.0" y1="215.0" x2="271.5" y2="229.5" stroke="#d0d0d0" stroke-width="1.1"/>
<line x1="279.2" y1="215.0" x2="272.7" y2="229.5" stroke="#fafafa" stroke-width="0.9"/>
<line x1="352.0" y1="215.0" x2="345.5" y2="229.5" stroke="#d0d0d0" stroke-width="1.1"/>
<line x1="353.2" y1="215.0" x2="346.7" y2="229.5" stroke="#fafafa" stroke-width="0.9"/>
<line x1="426.0" y1="215.0" x2="419.5" y2="229.5" stroke="#d0d0d0" stroke-width="1.1"/>
<line x1="427.2" y1="215.0" x2="420.7" y2="229.5" stroke="#fafafa" stroke-width="0.9"/>
<line x1="500.0" y1="215.0" x2="493.5" y2="229.5" stroke="#d0d0d0" stroke-width="1.1"/>
<line x1="501.2" y1="215.0" x2="494.7" y2="229.5" stroke="#fafafa" stroke-width="0.9"/>
<line x1="574.0" y1="215.0" x2="567.5" y2="229.5" stroke="#d0d0d0" stroke-width="1.1"/>
<line x1="575.2" y1="215.0" x2="568.7" y2="229.5" stroke="#fafafa" stroke-width="0.9"/>
<line x1="180.0" y1="104" x2="174.0" y2="118" stroke="#d6d6d6" stroke-width="1"/>
<line x1="254.0" y1="104" x2="248.0" y2="118" stroke="#d6d6d6" stroke-width="1"/>
<line x1="328.0" y1="104" x2="322.0" y2="118" stroke="#d6d6d6" stroke-width="1"/>
<line x1="402.0" y1="104" x2="396.0" y2="118" stroke="#d6d6d6" stroke-width="1"/>
<line x1="476.0" y1="104" x2="470.0" y2="118" stroke="#d6d6d6" stroke-width="1"/>
<line x1="550.0" y1="104" x2="544.0" y2="118" stroke="#d6d6d6" stroke-width="1"/>
<path d="M160,170 Q215,150.5 280,133 Q335,117 384.5,104 Q440,125 500,146.5 Q535,159.5 559,170.7 Q446,213.5 325.3,244.5 Q275,222.5 219.7,194 Q185,179 160,170 Z" fill="#888" filter="url(#nCover)" opacity="0.3"/>
<path d="M316.7,186.2 Q298.3,180.6 280.4,177.0 Q299.2,176.4 317.3,183.8 Z" fill="#8dc262" opacity="0.62"/>
<path d="M317.2,186.1 Q301.4,176.9 286.9,170.0 Q303.3,173.1 318.3,183.9 Z" fill="#8dc262" opacity="0.62"/>
<path d="M318.3,185.9 Q307.9,173.6 299.9,164.0 Q311.3,170.4 320.4,184.1 Z" fill="#8dc262" opacity="0.62"/>
<path d="M319.5,185.5 Q314.5,170.8 312.9,160.0 Q319.3,169.2 322.3,184.5 Z" fill="#8dc262" opacity="0.62"/>
<path d="M321.3,184.6 Q323.2,169.9 328.5,161.0 Q328.1,171.1 324.3,185.4 Z" fill="#8dc262" opacity="0.62"/>
<path d="M323.5,184.1 Q331.9,170.9 342.8,165.0 Q335.4,174.1 325.5,185.9 Z" fill="#8dc262" opacity="0.62"/>
<path d="M325.6,183.9 Q340.6,171.7 357.1,167.0 Q342.7,175.3 326.8,186.1 Z" fill="#8dc262" opacity="0.62"/>
<path d="M327.1,184.0 Q347.3,169.3 368.8,162.0 Q349.1,172.7 328.2,186.0 Z" fill="#8dc262" opacity="0.62"/>
<path d="M326.9,183.9 Q345.7,177.1 364.9,178.0 Q346.4,180.9 327.4,186.1 Z" fill="#8dc262" opacity="0.62"/>
<path d="M316.3,186.0 Q295.7,183.2 275.2,183.0 Q295.9,179.8 316.4,184.0 Z" fill="#8dc262" opacity="0.62"/>
<path d="M327.7,184.0 Q348.9,180.3 370.1,184.0 Q349.0,183.7 327.8,186.0 Z" fill="#8dc262" opacity="0.62"/>
<text transform="translate(272,197.6) rotate(1.2) scale(1.45,0.86)" x="0" y="0" font-size="17" font-weight="bold" fill="#b6dd94" opacity="0.7" textLength="67.5" lengthAdjust="spacingAndGlyphs">aloe vera</text>
<path d="M379.5,121.2 Q370.9,118.1 362.6,116.2 Q371.4,115.9 379.9,119.9 Z" fill="#8dc262" opacity="0.55"/>
<path d="M379.7,121.2 Q372.3,116.1 365.7,112.3 Q373.4,114.0 380.4,119.9 Z" fill="#8dc262" opacity="0.55"/>
<path d="M380.2,121.0 Q375.2,114.2 371.7,109.0 Q377.2,112.6 381.4,120.1 Z" fill="#8dc262" opacity="0.55"/>
<path d="M380.7,120.8 Q378.3,112.7 377.8,106.8 Q381.0,111.9 382.3,120.3 Z" fill="#8dc262" opacity="0.55"/>
<path d="M381.5,120.4 Q382.3,112.3 385.0,107.3 Q385.1,112.8 383.2,120.7 Z" fill="#8dc262" opacity="0.55"/>
<path d="M382.6,120.1 Q386.4,112.9 391.7,109.5 Q388.4,114.5 383.8,121.0 Z" fill="#8dc262" opacity="0.55"/>
<path d="M383.6,120.0 Q390.5,113.3 398.3,110.7 Q391.8,115.2 384.4,121.1 Z" fill="#8dc262" opacity="0.55"/>
<path d="M384.3,120.0 Q393.6,112.0 403.8,107.9 Q394.8,113.7 385.0,121.1 Z" fill="#8dc262" opacity="0.55"/>
<path d="M384.3,119.9 Q393.0,116.2 402.0,116.7 Q393.4,118.3 384.5,121.2 Z" fill="#8dc262" opacity="0.55"/>
<path d="M379.4,121.1 Q369.8,119.5 360.2,119.5 Q369.9,117.7 379.4,120.0 Z" fill="#8dc262" opacity="0.55"/>
<path d="M384.7,120.0 Q394.5,118.0 404.4,120.0 Q394.6,119.8 384.7,121.1 Z" fill="#8dc262" opacity="0.55"/>
<text transform="translate(518,153.4) scale(-1,-0.72)" x="0" y="0" font-size="17" font-weight="bold" fill="#a9d582" opacity="0.8" textLength="63" lengthAdjust="spacingAndGlyphs">aloe vera</text>
</g>
<rect x="300" y="96" width="170" height="34" fill="url(#gTopFade)"/>
<path d="M325.3,244.5 Q446,213.5 559,170.7" fill="none" stroke="#fbfbfb" stroke-width="1.6"/>
<circle cx="281" cy="793.3" r="54" fill="#9a6038" filter="url(#nCocoC)"/>
<circle cx="411" cy="757" r="56" fill="#e4e4e4" filter="url(#nFoamC)"/>
<circle cx="419.7" cy="729.8" r="0.9" fill="#9a9a9a" opacity="0.68"/>
<circle cx="436.9" cy="779.8" r="1.2" fill="#9a9a9a" opacity="0.59"/>
<circle cx="435.2" cy="788.4" r="1.2" fill="#9a9a9a" opacity="0.69"/>
<circle cx="459.1" cy="765.7" r="0.8" fill="#9a9a9a" opacity="0.68"/>
<circle cx="365.3" cy="754.9" r="0.8" fill="#9a9a9a" opacity="0.48"/>
<circle cx="448.7" cy="780.0" r="1.2" fill="#9a9a9a" opacity="0.43"/>
<circle cx="416.1" cy="770.3" r="0.8" fill="#9a9a9a" opacity="0.57"/>
<circle cx="372.2" cy="773.0" r="0.7" fill="#9a9a9a" opacity="0.69"/>
<circle cx="453.7" cy="752.2" r="1.4" fill="#9a9a9a" opacity="0.69"/>
<circle cx="439.1" cy="776.1" r="0.7" fill="#9a9a9a" opacity="0.66"/>
<circle cx="395.1" cy="753.1" r="1.1" fill="#9a9a9a" opacity="0.66"/>
<circle cx="394.5" cy="751.4" r="1.6" fill="#9a9a9a" opacity="0.37"/>
<circle cx="438.2" cy="715.9" r="1.4" fill="#9a9a9a" opacity="0.73"/>
<circle cx="388.0" cy="752.5" r="1.1" fill="#9a9a9a" opacity="0.65"/>
<circle cx="414.6" cy="726.2" r="1.6" fill="#9a9a9a" opacity="0.36"/>
<circle cx="401.1" cy="757.3" r="1.0" fill="#9a9a9a" opacity="0.75"/>
<circle cx="447.6" cy="790.5" r="1.6" fill="#9a9a9a" opacity="0.63"/>
<circle cx="443.2" cy="768.8" r="1.4" fill="#9a9a9a" opacity="0.39"/>
<circle cx="406.5" cy="771.5" r="1.5" fill="#9a9a9a" opacity="0.72"/>
<circle cx="449.4" cy="737.0" r="1.2" fill="#9a9a9a" opacity="0.37"/>
<circle cx="367.7" cy="762.1" r="1.4" fill="#9a9a9a" opacity="0.36"/>
<circle cx="425.8" cy="757.8" r="1.6" fill="#9a9a9a" opacity="0.40"/>
<circle cx="384.4" cy="778.9" r="1.6" fill="#9a9a9a" opacity="0.40"/>
<circle cx="407.8" cy="800.8" r="0.7" fill="#9a9a9a" opacity="0.42"/>
<circle cx="459.3" cy="764.7" r="0.9" fill="#9a9a9a" opacity="0.55"/>
<circle cx="375.1" cy="791.1" r="1.4" fill="#9a9a9a" opacity="0.59"/>
<line x1="280.5" y1="377.5" x2="280.5" y2="766" stroke="#232323" stroke-width="1.8"/>
<circle cx="280.5" cy="375" r="2.7" fill="none" stroke="#232323" stroke-width="1.4"/>
<line x1="411" y1="583" x2="411" y2="730" stroke="#232323" stroke-width="1.8"/>
<circle cx="411.3" cy="580" r="2.9" fill="none" stroke="#232323" stroke-width="1.4"/>
</g>
<g id="labels" style="opacity:0.999">
<rect x="650.7" y="57.0" width="40.6" height="40.7" fill="none" stroke="#232323" stroke-width="4.0"/>
<text x="671.0" y="88.1" font-size="31" text-anchor="middle" fill="#232323" stroke="#232323" stroke-width="0.5">1</text>
<text id="t1" x="733.95" y="76.7" font-size="32" font-weight="bold" fill="#232323" textLength="74.09" lengthAdjust="spacingAndGlyphs">Case</text>
<text id="s1" x="734.50" y="104.2" font-size="16" fill="#232323" stroke="#232323" stroke-width="0.35" textLength="263.01" lengthAdjust="spacingAndGlyphs">Airy and strong fabric (for washing)</text>
<rect x="649.0" y="151.5" width="40.7" height="40.2" fill="none" stroke="#232323" stroke-width="4.0"/>
<text x="669.4" y="182.4" font-size="31" text-anchor="middle" fill="#232323" stroke="#232323" stroke-width="0.5">2</text>
<text id="t2" x="735.42" y="173.3" font-size="32" font-weight="bold" fill="#232323" textLength="78.09" lengthAdjust="spacingAndGlyphs">Fiber</text>
<text id="s2" x="734.49" y="200.8" font-size="16" fill="#232323" stroke="#232323" stroke-width="0.35" textLength="120.02" lengthAdjust="spacingAndGlyphs">Air-conditioning</text>
<rect x="650.0" y="242.0" width="39.7" height="40.2" fill="none" stroke="#232323" stroke-width="4.0"/>
<text x="669.9" y="272.9" font-size="31" text-anchor="middle" fill="#232323" stroke="#232323" stroke-width="0.5">3</text>
<text id="t3" x="734.44" y="262.8" font-size="32" font-weight="bold" fill="#232323" textLength="85.57" lengthAdjust="spacingAndGlyphs">Layer</text>
<text id="s3" x="734.00" y="290.3" font-size="16" fill="#232323" stroke="#232323" stroke-width="0.35" textLength="96.02" lengthAdjust="spacingAndGlyphs">Antibacterial</text>
<rect x="650.7" y="333.2" width="39.8" height="39.5" fill="none" stroke="#232323" stroke-width="4.0"/>
<text x="670.1" y="363.8" font-size="31" font-weight="bold" text-anchor="middle" fill="#232323">4</text>
<text id="t4" x="734.41" y="352.5" font-size="32" font-weight="bold" fill="#232323" textLength="85.68" lengthAdjust="spacingAndGlyphs">Foam</text>
<text id="s4" x="734.00" y="380.0" font-size="16" fill="#232323" stroke="#232323" stroke-width="0.35" textLength="355.00" lengthAdjust="spacingAndGlyphs">Massage, 7 zones of increased stiffness, side H4</text>
<rect x="649.8" y="422.0" width="39.9" height="39.8" fill="none" stroke="#232323" stroke-width="4.0"/>
<text x="669.8" y="451.4" font-size="31" text-anchor="middle" fill="#232323" stroke="#232323" stroke-width="0.5">5</text>
<text id="t5" x="735.50" y="442.2" font-size="32" font-weight="bold" fill="#232323" textLength="361.51" lengthAdjust="spacingAndGlyphs">Strengthening element</text>
<text id="s5" x="734.99" y="470.0" font-size="16" fill="#232323" stroke="#232323" stroke-width="0.35" textLength="96.01" lengthAdjust="spacingAndGlyphs">Coconut mat</text>
<rect x="649.8" y="510.8" width="39.9" height="38.5" fill="none" stroke="#232323" stroke-width="4.0"/>
<text x="669.8" y="540.8" font-size="31" text-anchor="middle" fill="#232323" stroke="#232323" stroke-width="0.5">6</text>
<text id="t6" x="734.97" y="531.2" font-size="32" font-weight="bold" fill="#232323" textLength="116.06" lengthAdjust="spacingAndGlyphs">Springs</text>
<text id="s6" x="734.49" y="558.7" font-size="16" fill="#232323" stroke="#232323" stroke-width="0.35" textLength="114.02" lengthAdjust="spacingAndGlyphs">Pocket, 7 zones</text>
<rect x="649.8" y="602.0" width="39.9" height="39.7" fill="none" stroke="#232323" stroke-width="4.0"/>
<text x="669.8" y="632.6" font-size="31" text-anchor="middle" fill="#232323" stroke="#232323" stroke-width="0.5">7</text>
<text id="t7" x="732.99" y="621.7" font-size="32" font-weight="bold" fill="#232323" textLength="361.51" lengthAdjust="spacingAndGlyphs">Strengthening element</text>
<text id="s7" x="731.98" y="649.2" font-size="16" fill="#232323" stroke="#232323" stroke-width="0.35" textLength="85.05" lengthAdjust="spacingAndGlyphs">Side (foam)</text>
<rect x="649.8" y="690.3" width="39.9" height="39.9" fill="none" stroke="#232323" stroke-width="4.0"/>
<text x="669.8" y="721.0" font-size="31" text-anchor="middle" fill="#232323" stroke="#232323" stroke-width="0.5">8</text>
<text id="t8" x="733.99" y="710.5" font-size="32" font-weight="bold" fill="#232323" textLength="361.51" lengthAdjust="spacingAndGlyphs">Strengthening element</text>
<text id="s8" x="734.00" y="737.5" font-size="16" fill="#232323" stroke="#232323" stroke-width="0.35" textLength="247.00" lengthAdjust="spacingAndGlyphs">With increased flexibility, side H3</text>
<rect x="650.7" y="780.7" width="39.8" height="39.8" fill="none" stroke="#232323" stroke-width="4.0"/>
<text x="671.2" y="814.6" font-size="39.5" text-anchor="middle" fill="#232323" stroke="#232323" stroke-width="0.4">9</text>
<text id="t9" x="736.49" y="800.0" font-size="32" font-weight="bold" fill="#232323" textLength="361.01" lengthAdjust="spacingAndGlyphs">Strengthening element</text>
<text id="s9" x="735.98" y="822.0" font-size="16" fill="#232323" stroke="#232323" stroke-width="0.35" textLength="105.04" lengthAdjust="spacingAndGlyphs">Fiber material</text>
<line x1="140.8" y1="186.4" x2="202.0" y2="208.6" stroke="#232323" stroke-width="2.2"/>
<rect x="107.7" y="170.4" width="31.0" height="31.4" fill="none" stroke="#232323" stroke-width="4.2"/>
<text x="123.2" y="194.9" font-size="25.5" text-anchor="middle" fill="#232323" stroke="#232323" stroke-width="1.0">2</text>
<line x1="140.8" y1="234.4" x2="202.8" y2="233.0" stroke="#232323" stroke-width="2.2"/>
<rect x="107.7" y="219.1" width="31.0" height="30.5" fill="none" stroke="#232323" stroke-width="4.2"/>
<text x="123.2" y="243.2" font-size="25.5" text-anchor="middle" fill="#232323" stroke="#232323" stroke-width="1.0">3</text>
<line x1="140.8" y1="303.0" x2="202.8" y2="336.4" stroke="#232323" stroke-width="2.2"/>
<rect x="107.7" y="287.1" width="31.0" height="31.1" fill="none" stroke="#232323" stroke-width="4.2"/>
<text x="123.2" y="311.4" font-size="25.5" text-anchor="middle" fill="#232323" stroke="#232323" stroke-width="1.0">5</text>
<line x1="140.8" y1="383.0" x2="218.0" y2="362.0" stroke="#232323" stroke-width="2.2"/>
<rect x="107.7" y="368.2" width="31.0" height="30.8" fill="none" stroke="#232323" stroke-width="4.2"/>
<text x="123.2" y="392.4" font-size="25.5" text-anchor="middle" fill="#232323" stroke="#232323" stroke-width="1.0">3</text>
<line x1="140.8" y1="488.3" x2="218.6" y2="521.7" stroke="#232323" stroke-width="2.2"/>
<rect x="107.7" y="472.4" width="31.0" height="31.1" fill="none" stroke="#232323" stroke-width="4.2"/>
<text x="123.2" y="496.8" font-size="25.5" text-anchor="middle" fill="#232323" stroke="#232323" stroke-width="1.0">8</text>
<line x1="140.0" y1="574.4" x2="197.8" y2="565.3" stroke="#232323" stroke-width="2.2"/>
<rect x="106.8" y="558.5" width="31.1" height="31.1" fill="none" stroke="#232323" stroke-width="4.2"/>
<text x="122.3" y="582.8" font-size="25.5" text-anchor="middle" fill="#232323" stroke="#232323" stroke-width="1.0">3</text>
<line x1="140.8" y1="621.1" x2="200.6" y2="591.1" stroke="#232323" stroke-width="2.2"/>
<rect x="107.7" y="606.3" width="31.0" height="30.5" fill="none" stroke="#232323" stroke-width="4.2"/>
<text x="123.2" y="630.4" font-size="25.5" text-anchor="middle" fill="#232323" stroke="#232323" stroke-width="1.0">2</text>
<line x1="140.8" y1="669.4" x2="236.7" y2="630.6" stroke="#232323" stroke-width="2.2"/>
<rect x="107.7" y="653.5" width="31.0" height="30.8" fill="none" stroke="#232323" stroke-width="4.2"/>
<text x="123.2" y="677.7" font-size="25.5" text-anchor="middle" fill="#232323" stroke="#232323" stroke-width="1.0">1</text>
<rect x="422.9" y="151.1" width="31.0" height="31.7" fill="none" stroke="#232323" stroke-width="4.2"/>
<text x="438.4" y="175.8" font-size="25.5" text-anchor="middle" fill="#232323" stroke="#232323" stroke-width="0.5">1</text>
<rect x="339.1" y="315.1" width="32.0" height="31.6" fill="none" stroke="#232323" stroke-width="4.2"/>
<text x="355.1" y="339.7" font-size="25.5" text-anchor="middle" fill="#232323" stroke="#232323" stroke-width="1.0">4</text>
<rect x="375.4" y="459.2" width="31.7" height="31.7" fill="none" stroke="#232323" stroke-width="4.2"/>
<text x="391.2" y="483.9" font-size="25.5" text-anchor="middle" fill="#232323" stroke="#232323" stroke-width="0.5">6</text>
<rect x="506.3" y="431.4" width="32.1" height="31.0" fill="none" stroke="#232323" stroke-width="4.2"/>
<text x="522.4" y="455.7" font-size="25.5" text-anchor="middle" fill="#232323" stroke="#232323" stroke-width="0.5">7</text>
</g>
</svg>
</body></html>
